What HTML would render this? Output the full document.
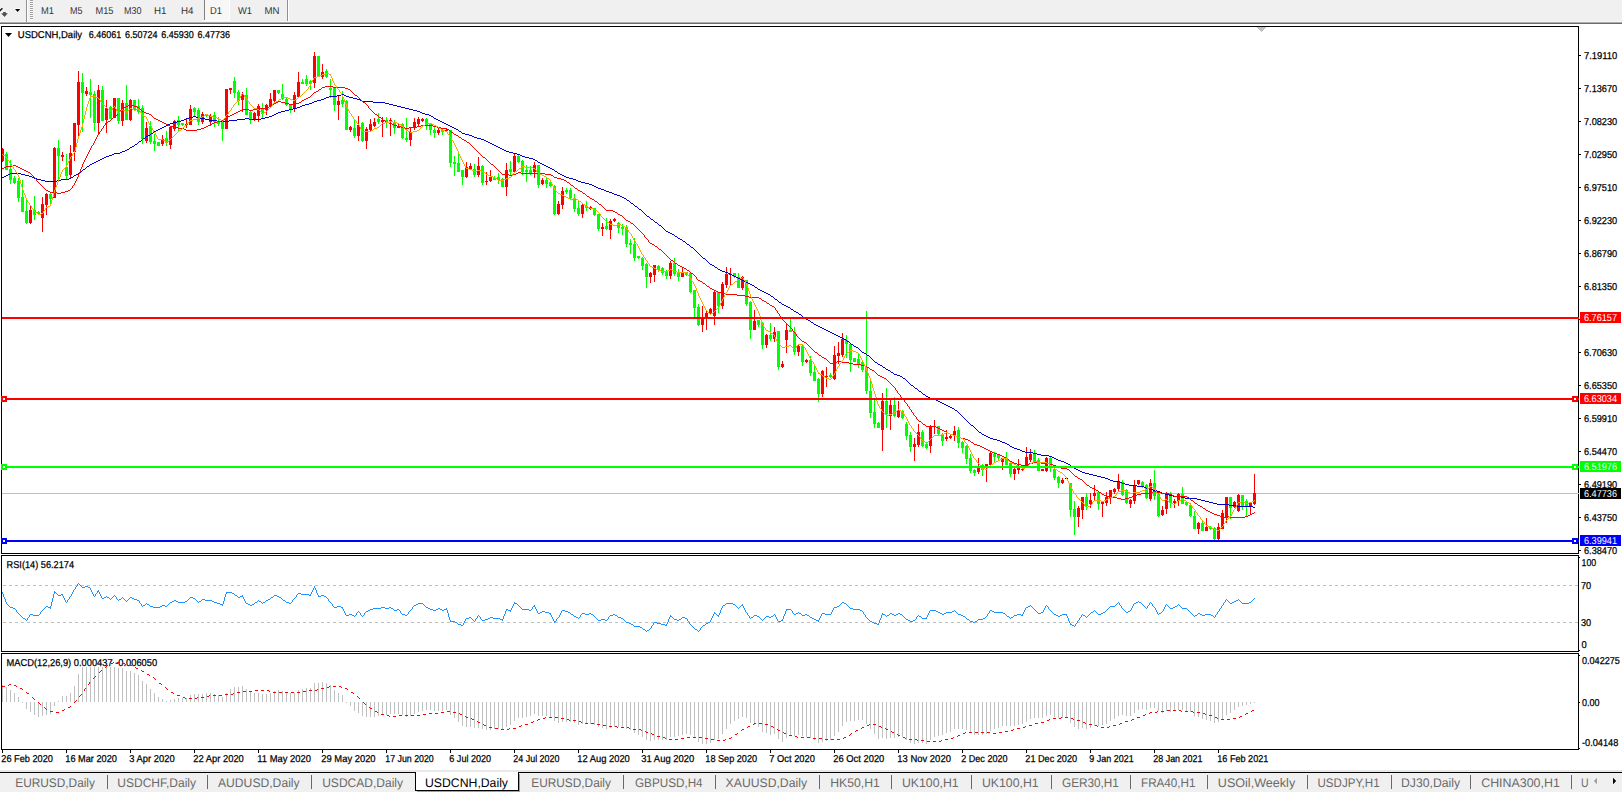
<!DOCTYPE html>
<html><head><meta charset="utf-8"><title>USDCNH,Daily</title>
<style>
html,body{margin:0;padding:0;background:#f0f0f0;overflow:hidden}
svg{display:block}
text{font-family:"Liberation Sans", sans-serif;text-rendering:geometricPrecision}
.s{font-size:10px;fill:#000;stroke:#000;stroke-width:.25px}
.tf{font-size:10px;fill:#333}
.tab{font-size:12.5px;fill:#6a6a6a}
.w{font-size:10px;fill:#fff}
</style></head><body>
<svg width="1622" height="793" viewBox="0 0 1622 793" shape-rendering="crispEdges">
<rect x="0" y="0" width="1622" height="793" fill="#f0f0f0"/>
<rect x="0" y="21" width="1622" height="1" fill="#f6f6f6"/>
<rect x="0" y="22" width="1622" height="1" fill="#acacac"/>
<rect x="0" y="23" width="1622" height="1" fill="#6c6c6c"/>
<rect x="0" y="24" width="1622" height="2" fill="#ffffff"/>
<rect x="0" y="26" width="1622" height="744" fill="#ffffff"/>
<rect x="26" y="0" width="1" height="22" fill="#909090"/>
<rect x="27" y="0" width="1" height="21" fill="#ffffff"/>
<rect x="30" y="0" width="3" height="1" fill="#a0a0a0"/>
<rect x="30" y="1" width="3" height="1" fill="#fafafa"/>
<rect x="30" y="2" width="3" height="1" fill="#a0a0a0"/>
<rect x="30" y="3" width="3" height="1" fill="#fafafa"/>
<rect x="30" y="4" width="3" height="1" fill="#a0a0a0"/>
<rect x="30" y="5" width="3" height="1" fill="#fafafa"/>
<rect x="30" y="6" width="3" height="1" fill="#a0a0a0"/>
<rect x="30" y="7" width="3" height="1" fill="#fafafa"/>
<rect x="30" y="8" width="3" height="1" fill="#a0a0a0"/>
<rect x="30" y="9" width="3" height="1" fill="#fafafa"/>
<rect x="30" y="10" width="3" height="1" fill="#a0a0a0"/>
<rect x="30" y="11" width="3" height="1" fill="#fafafa"/>
<rect x="30" y="12" width="3" height="1" fill="#a0a0a0"/>
<rect x="30" y="13" width="3" height="1" fill="#fafafa"/>
<rect x="30" y="14" width="3" height="1" fill="#a0a0a0"/>
<rect x="30" y="15" width="3" height="1" fill="#fafafa"/>
<rect x="30" y="16" width="3" height="1" fill="#a0a0a0"/>
<rect x="30" y="17" width="3" height="1" fill="#fafafa"/>
<rect x="30" y="18" width="3" height="1" fill="#a0a0a0"/>
<rect x="30" y="19" width="3" height="1" fill="#fafafa"/>
<path d="M-0.5 11.5 L2.6 8" stroke="#fff" stroke-width="3.2" fill="none" shape-rendering="auto"/>
<path d="M-0.5 11.3 L2.4 8.2" stroke="#222" stroke-width="1.6" fill="none" shape-rendering="auto"/>
<path d="M0.2 12.6 L8.8 12.6 L4.5 17.9 Z" fill="#fff" shape-rendering="auto"/>
<path d="M3.2 12.1 L5.8 12.1 L5.8 13.2 L8 13.2 L4.5 17.1 L1 13.2 L3.2 13.2 Z" fill="#505050" shape-rendering="auto"/>
<path d="M14 8.3 L21 8.3 L17.5 13 Z" fill="#fff" shape-rendering="auto"/>
<path d="M15 9 L20.2 9 L17.6 12 Z" fill="#000" shape-rendering="auto"/>
<rect x="205" y="0" width="24" height="20" fill="#f7f7f7"/>
<rect x="204" y="20" width="26" height="1" fill="#ffffff"/>
<rect x="229" y="0" width="1" height="21" fill="#ffffff"/>
<rect x="204" y="0" width="1" height="20" fill="#808080"/>
<rect x="287" y="0" width="1" height="21" fill="#909090"/>
<rect x="288" y="0" width="1" height="21" fill="#ffffff"/>
<text x="41" y="14" class="tf" textLength="13" lengthAdjust="spacingAndGlyphs">M1</text>
<text x="70" y="14" class="tf" textLength="12.5" lengthAdjust="spacingAndGlyphs">M5</text>
<text x="95.5" y="14" class="tf" textLength="18" lengthAdjust="spacingAndGlyphs">M15</text>
<text x="124" y="14" class="tf" textLength="17.5" lengthAdjust="spacingAndGlyphs">M30</text>
<text x="154" y="14" class="tf" textLength="12.5" lengthAdjust="spacingAndGlyphs">H1</text>
<text x="181" y="14" class="tf" textLength="12.5" lengthAdjust="spacingAndGlyphs">H4</text>
<text x="210" y="14" class="tf" textLength="12" lengthAdjust="spacingAndGlyphs">D1</text>
<text x="238" y="14" class="tf" textLength="14" lengthAdjust="spacingAndGlyphs">W1</text>
<text x="264.5" y="14" class="tf" textLength="15" lengthAdjust="spacingAndGlyphs">MN</text>
<rect x="1" y="26" width="1578" height="1" fill="#000"/>
<rect x="1" y="553" width="1578" height="1" fill="#000"/>
<rect x="1" y="26" width="1" height="528" fill="#000"/>
<rect x="1578" y="26" width="1" height="528" fill="#000"/>
<rect x="1" y="555" width="1578" height="1" fill="#000"/>
<rect x="1" y="651" width="1578" height="1" fill="#000"/>
<rect x="1" y="555" width="1" height="97" fill="#000"/>
<rect x="1578" y="555" width="1" height="97" fill="#000"/>
<rect x="1" y="653" width="1578" height="1" fill="#000"/>
<rect x="1" y="749" width="1578" height="1" fill="#000"/>
<rect x="1" y="653" width="1" height="97" fill="#000"/>
<rect x="1578" y="653" width="1" height="97" fill="#000"/>
<rect x="1579" y="55" width="2" height="1" fill="#000"/>
<text x="1584" y="59" class="s" textLength="33.2" lengthAdjust="spacingAndGlyphs">7.19110</text>
<rect x="1579" y="88" width="2" height="1" fill="#000"/>
<text x="1584" y="92" class="s" textLength="33.2" lengthAdjust="spacingAndGlyphs">7.13670</text>
<rect x="1579" y="121" width="2" height="1" fill="#000"/>
<text x="1584" y="125" class="s" textLength="33.2" lengthAdjust="spacingAndGlyphs">7.08230</text>
<rect x="1579" y="154" width="2" height="1" fill="#000"/>
<text x="1584" y="158" class="s" textLength="33.2" lengthAdjust="spacingAndGlyphs">7.02950</text>
<rect x="1579" y="187" width="2" height="1" fill="#000"/>
<text x="1584" y="191" class="s" textLength="33.2" lengthAdjust="spacingAndGlyphs">6.97510</text>
<rect x="1579" y="220" width="2" height="1" fill="#000"/>
<text x="1584" y="224" class="s" textLength="33.2" lengthAdjust="spacingAndGlyphs">6.92230</text>
<rect x="1579" y="253" width="2" height="1" fill="#000"/>
<text x="1584" y="257" class="s" textLength="33.2" lengthAdjust="spacingAndGlyphs">6.86790</text>
<rect x="1579" y="286" width="2" height="1" fill="#000"/>
<text x="1584" y="290" class="s" textLength="33.2" lengthAdjust="spacingAndGlyphs">6.81350</text>
<rect x="1579" y="352" width="2" height="1" fill="#000"/>
<text x="1584" y="356" class="s" textLength="33.2" lengthAdjust="spacingAndGlyphs">6.70630</text>
<rect x="1579" y="385" width="2" height="1" fill="#000"/>
<text x="1584" y="389" class="s" textLength="33.2" lengthAdjust="spacingAndGlyphs">6.65350</text>
<rect x="1579" y="418" width="2" height="1" fill="#000"/>
<text x="1584" y="422" class="s" textLength="33.2" lengthAdjust="spacingAndGlyphs">6.59910</text>
<rect x="1579" y="451" width="2" height="1" fill="#000"/>
<text x="1584" y="455" class="s" textLength="33.2" lengthAdjust="spacingAndGlyphs">6.54470</text>
<rect x="1579" y="484" width="2" height="1" fill="#000"/>
<text x="1584" y="488" class="s" textLength="33.2" lengthAdjust="spacingAndGlyphs">6.49190</text>
<rect x="1579" y="517" width="2" height="1" fill="#000"/>
<text x="1584" y="521" class="s" textLength="33.2" lengthAdjust="spacingAndGlyphs">6.43750</text>
<rect x="1579" y="550" width="2" height="1" fill="#000"/>
<text x="1584" y="554" class="s" textLength="33.2" lengthAdjust="spacingAndGlyphs">6.38470</text>
<text x="1581.5" y="566" class="s" textLength="14.7" lengthAdjust="spacingAndGlyphs">100</text>
<text x="1581" y="589" class="s" textLength="10.2" lengthAdjust="spacingAndGlyphs">70</text>
<text x="1581" y="626" class="s" textLength="10.2" lengthAdjust="spacingAndGlyphs">30</text>
<text x="1581.5" y="648" class="s" textLength="5.2" lengthAdjust="spacingAndGlyphs">0</text>
<rect x="1579" y="557" width="1" height="1" fill="#000"/>
<rect x="1579" y="650" width="1" height="1" fill="#000"/>
<text x="1582" y="664" class="s" textLength="37.8" lengthAdjust="spacingAndGlyphs">0.042275</text>
<text x="1582" y="706" class="s" textLength="17.6" lengthAdjust="spacingAndGlyphs">0.00</text>
<text x="1582" y="746" class="s" textLength="36.3" lengthAdjust="spacingAndGlyphs">-0.04148</text>
<rect x="1579" y="655" width="1" height="1" fill="#000"/>
<rect x="1579" y="702" width="1" height="1" fill="#000"/>
<rect x="1579" y="748" width="1" height="1" fill="#000"/>
<rect x="2" y="750" width="1" height="3" fill="#000"/>
<text x="1.3" y="762" class="s" textLength="51.6" lengthAdjust="spacingAndGlyphs">26 Feb 2020</text>
<rect x="66" y="750" width="1" height="3" fill="#000"/>
<text x="65.3" y="762" class="s" textLength="51.6" lengthAdjust="spacingAndGlyphs">16 Mar 2020</text>
<rect x="130" y="750" width="1" height="3" fill="#000"/>
<text x="129.3" y="762" class="s" textLength="45.3" lengthAdjust="spacingAndGlyphs">3 Apr 2020</text>
<rect x="194" y="750" width="1" height="3" fill="#000"/>
<text x="193.3" y="762" class="s" textLength="50.5" lengthAdjust="spacingAndGlyphs">22 Apr 2020</text>
<rect x="258" y="750" width="1" height="3" fill="#000"/>
<text x="257.3" y="762" class="s" textLength="53.6" lengthAdjust="spacingAndGlyphs">11 May 2020</text>
<rect x="322" y="750" width="1" height="3" fill="#000"/>
<text x="321.3" y="762" class="s" textLength="54.3" lengthAdjust="spacingAndGlyphs">29 May 2020</text>
<rect x="386" y="750" width="1" height="3" fill="#000"/>
<text x="385.3" y="762" class="s" textLength="48.4" lengthAdjust="spacingAndGlyphs">17 Jun 2020</text>
<rect x="450" y="750" width="1" height="3" fill="#000"/>
<text x="449.3" y="762" class="s" textLength="41.8" lengthAdjust="spacingAndGlyphs">6 Jul 2020</text>
<rect x="514" y="750" width="1" height="3" fill="#000"/>
<text x="513.3" y="762" class="s" textLength="46.2" lengthAdjust="spacingAndGlyphs">24 Jul 2020</text>
<rect x="578" y="750" width="1" height="3" fill="#000"/>
<text x="577.3" y="762" class="s" textLength="52.5" lengthAdjust="spacingAndGlyphs">12 Aug 2020</text>
<rect x="642" y="750" width="1" height="3" fill="#000"/>
<text x="641.3" y="762" class="s" textLength="52.9" lengthAdjust="spacingAndGlyphs">31 Aug 2020</text>
<rect x="706" y="750" width="1" height="3" fill="#000"/>
<text x="705.3" y="762" class="s" textLength="51.8" lengthAdjust="spacingAndGlyphs">18 Sep 2020</text>
<rect x="770" y="750" width="1" height="3" fill="#000"/>
<text x="769.3" y="762" class="s" textLength="45.6" lengthAdjust="spacingAndGlyphs">7 Oct 2020</text>
<rect x="834" y="750" width="1" height="3" fill="#000"/>
<text x="833.3" y="762" class="s" textLength="51" lengthAdjust="spacingAndGlyphs">26 Oct 2020</text>
<rect x="898" y="750" width="1" height="3" fill="#000"/>
<text x="897.3" y="762" class="s" textLength="53.6" lengthAdjust="spacingAndGlyphs">13 Nov 2020</text>
<rect x="962" y="750" width="1" height="3" fill="#000"/>
<text x="961.3" y="762" class="s" textLength="46.2" lengthAdjust="spacingAndGlyphs">2 Dec 2020</text>
<rect x="1026" y="750" width="1" height="3" fill="#000"/>
<text x="1025.3" y="762" class="s" textLength="51.8" lengthAdjust="spacingAndGlyphs">21 Dec 2020</text>
<rect x="1090" y="750" width="1" height="3" fill="#000"/>
<text x="1089.3" y="762" class="s" textLength="44.4" lengthAdjust="spacingAndGlyphs">9 Jan 2021</text>
<rect x="1154" y="750" width="1" height="3" fill="#000"/>
<text x="1153.3" y="762" class="s" textLength="49.1" lengthAdjust="spacingAndGlyphs">28 Jan 2021</text>
<rect x="1218" y="750" width="1" height="3" fill="#000"/>
<text x="1217.3" y="762" class="s" textLength="51" lengthAdjust="spacingAndGlyphs">16 Feb 2021</text>
<rect x="0" y="770" width="1622" height="2" fill="#e8e8e8"/>
<rect x="0" y="772" width="1622" height="21" fill="#f0f0f0"/>
<rect x="0" y="772" width="1622" height="1" fill="#000"/>
<rect x="416" y="772" width="102" height="18" fill="#ffffff"/>
<rect x="415" y="772" width="1" height="19" fill="#000"/>
<rect x="518" y="772" width="1" height="19" fill="#000"/>
<rect x="415" y="790" width="104" height="1" fill="#000"/>
<rect x="519" y="774" width="1" height="18" fill="#a0a0a0"/>
<rect x="417" y="791" width="103" height="1" fill="#a0a0a0"/>
<text x="15.3" y="787" class="tab" textLength="79.6" lengthAdjust="spacingAndGlyphs">EURUSD,Daily</text>
<text x="117.3" y="787" class="tab" textLength="78.7" lengthAdjust="spacingAndGlyphs">USDCHF,Daily</text>
<text x="218" y="787" class="tab" textLength="81.6" lengthAdjust="spacingAndGlyphs">AUDUSD,Daily</text>
<text x="322.2" y="787" class="tab" textLength="80.8" lengthAdjust="spacingAndGlyphs">USDCAD,Daily</text>
<text x="425" y="787" class="tab" textLength="83" lengthAdjust="spacingAndGlyphs" style="fill:#000">USDCNH,Daily</text>
<text x="531.3" y="787" class="tab" textLength="79.6" lengthAdjust="spacingAndGlyphs">EURUSD,Daily</text>
<text x="635" y="787" class="tab" textLength="67.6" lengthAdjust="spacingAndGlyphs">GBPUSD,H4</text>
<text x="725.6" y="787" class="tab" textLength="81.4" lengthAdjust="spacingAndGlyphs">XAUUSD,Daily</text>
<text x="830.3" y="787" class="tab" textLength="49.5" lengthAdjust="spacingAndGlyphs">HK50,H1</text>
<text x="902" y="787" class="tab" textLength="56.6" lengthAdjust="spacingAndGlyphs">UK100,H1</text>
<text x="982" y="787" class="tab" textLength="56.6" lengthAdjust="spacingAndGlyphs">UK100,H1</text>
<text x="1062" y="787" class="tab" textLength="56.9" lengthAdjust="spacingAndGlyphs">GER30,H1</text>
<text x="1141" y="787" class="tab" textLength="54.5" lengthAdjust="spacingAndGlyphs">FRA40,H1</text>
<text x="1217.8" y="787" class="tab" textLength="77.4" lengthAdjust="spacingAndGlyphs">USOil,Weekly</text>
<text x="1317.5" y="787" class="tab" textLength="62.1" lengthAdjust="spacingAndGlyphs">USDJPY,H1</text>
<text x="1401" y="787" class="tab" textLength="59" lengthAdjust="spacingAndGlyphs">DJ30,Daily</text>
<text x="1481.2" y="787" class="tab" textLength="78.6" lengthAdjust="spacingAndGlyphs">CHINA300,H1</text>
<text x="1581" y="787" class="tab" textLength="7.6" lengthAdjust="spacingAndGlyphs">U</text>
<rect x="107" y="775" width="1" height="14" fill="#686868"/>
<rect x="207" y="775" width="1" height="14" fill="#686868"/>
<rect x="311" y="775" width="1" height="14" fill="#686868"/>
<rect x="623" y="775" width="1" height="14" fill="#686868"/>
<rect x="715" y="775" width="1" height="14" fill="#686868"/>
<rect x="819" y="775" width="1" height="14" fill="#686868"/>
<rect x="891" y="775" width="1" height="14" fill="#686868"/>
<rect x="971" y="775" width="1" height="14" fill="#686868"/>
<rect x="1051" y="775" width="1" height="14" fill="#686868"/>
<rect x="1130" y="775" width="1" height="14" fill="#686868"/>
<rect x="1207" y="775" width="1" height="14" fill="#686868"/>
<rect x="1307" y="775" width="1" height="14" fill="#686868"/>
<rect x="1391" y="775" width="1" height="14" fill="#686868"/>
<rect x="1470" y="775" width="1" height="14" fill="#686868"/>
<rect x="1571" y="775" width="1" height="14" fill="#686868"/>
<path d="M1597 777.8 L1597 784.2 L1593.8 781 Z" fill="#a0a0a0" shape-rendering="auto"/>
<path d="M1613 777.8 L1613 784.2 L1616.2 781 Z" fill="#000" shape-rendering="auto"/>
<rect x="0" y="792" width="1622" height="1" fill="#ffffff"/>
<path d="M5 33 L12 33 L8.5 37 Z" fill="#000" shape-rendering="auto"/>
<text x="17.8" y="38" class="s" textLength="64.3" lengthAdjust="spacingAndGlyphs">USDCNH,Daily</text>
<text x="88.8" y="38" class="s" textLength="32.4" lengthAdjust="spacingAndGlyphs">6.46061</text>
<text x="125" y="38" class="s" textLength="32.4" lengthAdjust="spacingAndGlyphs">6.50724</text>
<text x="161.3" y="38" class="s" textLength="32.4" lengthAdjust="spacingAndGlyphs">6.45930</text>
<text x="197.5" y="38" class="s" textLength="32.4" lengthAdjust="spacingAndGlyphs">6.47736</text>
<text x="6.6" y="568" class="s" textLength="67.4" lengthAdjust="spacingAndGlyphs">RSI(14) 56.2174</text>
<rect x="1257" y="27" width="9" height="1" fill="#c0c0c0"/>
<rect x="1258" y="28" width="7" height="1" fill="#c0c0c0"/>
<rect x="1259" y="29" width="5" height="1" fill="#c0c0c0"/>
<rect x="1260" y="30" width="3" height="1" fill="#c0c0c0"/>
<rect x="1261" y="31" width="1" height="1" fill="#c0c0c0"/>
<line x1="3" x2="1578" y1="585.5" y2="585.5" stroke="#c0c0c0" stroke-width="1" stroke-dasharray="3 3"/>
<line x1="3" x2="1578" y1="622.5" y2="622.5" stroke="#c0c0c0" stroke-width="1" stroke-dasharray="3 3"/>
<rect x="2" y="493" width="1577" height="1" fill="#c0c0c0"/>
<g id="candles">
<rect x="2" y="148" width="1" height="14" fill="#ff0000"/>
<rect x="1" y="149" width="3" height="12" fill="#ff0000"/>
<rect x="6" y="152" width="1" height="18" fill="#00ff00"/>
<rect x="5" y="154" width="3" height="16" fill="#00ff00"/>
<rect x="10" y="160" width="1" height="24" fill="#00ff00"/>
<rect x="9" y="169" width="3" height="11" fill="#00ff00"/>
<rect x="14" y="176" width="1" height="8" fill="#00ff00"/>
<rect x="13" y="178" width="3" height="5" fill="#00ff00"/>
<rect x="18" y="178" width="1" height="24" fill="#00ff00"/>
<rect x="17" y="181" width="3" height="17" fill="#00ff00"/>
<rect x="22" y="180" width="1" height="32" fill="#00ff00"/>
<rect x="21" y="197" width="3" height="15" fill="#00ff00"/>
<rect x="26" y="199" width="1" height="25" fill="#00ff00"/>
<rect x="25" y="211" width="3" height="12" fill="#00ff00"/>
<rect x="30" y="206" width="1" height="18" fill="#ff0000"/>
<rect x="29" y="210" width="3" height="13" fill="#ff0000"/>
<rect x="34" y="196" width="1" height="24" fill="#00ff00"/>
<rect x="33" y="210" width="3" height="5" fill="#00ff00"/>
<rect x="38" y="211" width="1" height="4" fill="#00ff00"/>
<rect x="37" y="212" width="3" height="2" fill="#00ff00"/>
<rect x="42" y="197" width="1" height="35" fill="#ff0000"/>
<rect x="41" y="204" width="3" height="14" fill="#ff0000"/>
<rect x="46" y="193" width="1" height="22" fill="#ff0000"/>
<rect x="45" y="194" width="3" height="11" fill="#ff0000"/>
<rect x="50" y="193" width="1" height="11" fill="#00ff00"/>
<rect x="49" y="194" width="3" height="5" fill="#00ff00"/>
<rect x="54" y="147" width="1" height="51" fill="#ff0000"/>
<rect x="53" y="148" width="3" height="50" fill="#ff0000"/>
<rect x="58" y="140" width="1" height="40" fill="#00ff00"/>
<rect x="57" y="148" width="3" height="8" fill="#00ff00"/>
<rect x="62" y="152" width="1" height="9" fill="#ff0000"/>
<rect x="61" y="155" width="3" height="2" fill="#ff0000"/>
<rect x="66" y="154" width="1" height="25" fill="#00ff00"/>
<rect x="65" y="167" width="3" height="9" fill="#00ff00"/>
<rect x="70" y="145" width="1" height="33" fill="#ff0000"/>
<rect x="69" y="153" width="3" height="22" fill="#ff0000"/>
<rect x="74" y="123" width="1" height="38" fill="#ff0000"/>
<rect x="73" y="123" width="3" height="29" fill="#ff0000"/>
<rect x="78" y="71" width="1" height="66" fill="#ff0000"/>
<rect x="77" y="82" width="3" height="43" fill="#ff0000"/>
<rect x="82" y="73" width="1" height="59" fill="#00ff00"/>
<rect x="81" y="82" width="3" height="11" fill="#00ff00"/>
<rect x="86" y="87" width="1" height="9" fill="#ff0000"/>
<rect x="85" y="91" width="3" height="3" fill="#ff0000"/>
<rect x="90" y="79" width="1" height="39" fill="#00ff00"/>
<rect x="89" y="92" width="3" height="3" fill="#00ff00"/>
<rect x="94" y="91" width="1" height="40" fill="#00ff00"/>
<rect x="93" y="94" width="3" height="29" fill="#00ff00"/>
<rect x="98" y="85" width="1" height="50" fill="#ff0000"/>
<rect x="97" y="90" width="3" height="33" fill="#ff0000"/>
<rect x="102" y="86" width="1" height="35" fill="#00ff00"/>
<rect x="101" y="90" width="3" height="31" fill="#00ff00"/>
<rect x="106" y="100" width="1" height="33" fill="#ff0000"/>
<rect x="105" y="108" width="3" height="12" fill="#ff0000"/>
<rect x="110" y="106" width="1" height="13" fill="#00ff00"/>
<rect x="109" y="107" width="3" height="12" fill="#00ff00"/>
<rect x="114" y="98" width="1" height="20" fill="#ff0000"/>
<rect x="113" y="98" width="3" height="20" fill="#ff0000"/>
<rect x="118" y="98" width="1" height="26" fill="#00ff00"/>
<rect x="117" y="98" width="3" height="23" fill="#00ff00"/>
<rect x="122" y="100" width="1" height="26" fill="#ff0000"/>
<rect x="121" y="103" width="3" height="18" fill="#ff0000"/>
<rect x="126" y="85" width="1" height="35" fill="#00ff00"/>
<rect x="125" y="103" width="3" height="17" fill="#00ff00"/>
<rect x="130" y="99" width="1" height="22" fill="#ff0000"/>
<rect x="129" y="100" width="3" height="20" fill="#ff0000"/>
<rect x="134" y="100" width="1" height="11" fill="#00ff00"/>
<rect x="133" y="100" width="3" height="10" fill="#00ff00"/>
<rect x="138" y="99" width="1" height="15" fill="#00ff00"/>
<rect x="137" y="106" width="3" height="6" fill="#00ff00"/>
<rect x="142" y="105" width="1" height="39" fill="#00ff00"/>
<rect x="141" y="108" width="3" height="31" fill="#00ff00"/>
<rect x="146" y="122" width="1" height="21" fill="#ff0000"/>
<rect x="145" y="128" width="3" height="13" fill="#ff0000"/>
<rect x="150" y="121" width="1" height="23" fill="#00ff00"/>
<rect x="149" y="126" width="3" height="16" fill="#00ff00"/>
<rect x="154" y="134" width="1" height="17" fill="#00ff00"/>
<rect x="153" y="141" width="3" height="3" fill="#00ff00"/>
<rect x="158" y="142" width="1" height="4" fill="#00ff00"/>
<rect x="157" y="142" width="3" height="4" fill="#00ff00"/>
<rect x="162" y="135" width="1" height="11" fill="#ff0000"/>
<rect x="161" y="139" width="3" height="5" fill="#ff0000"/>
<rect x="166" y="131" width="1" height="15" fill="#00ff00"/>
<rect x="165" y="138" width="3" height="5" fill="#00ff00"/>
<rect x="170" y="126" width="1" height="23" fill="#ff0000"/>
<rect x="169" y="127" width="3" height="18" fill="#ff0000"/>
<rect x="174" y="120" width="1" height="11" fill="#ff0000"/>
<rect x="173" y="121" width="3" height="8" fill="#ff0000"/>
<rect x="178" y="116" width="1" height="15" fill="#00ff00"/>
<rect x="177" y="120" width="3" height="5" fill="#00ff00"/>
<rect x="182" y="123" width="1" height="3" fill="#00ff00"/>
<rect x="181" y="123" width="3" height="2" fill="#00ff00"/>
<rect x="186" y="119" width="1" height="9" fill="#ff0000"/>
<rect x="185" y="124" width="3" height="1" fill="#ff0000"/>
<rect x="190" y="105" width="1" height="20" fill="#ff0000"/>
<rect x="189" y="109" width="3" height="16" fill="#ff0000"/>
<rect x="194" y="107" width="1" height="9" fill="#00ff00"/>
<rect x="193" y="108" width="3" height="4" fill="#00ff00"/>
<rect x="198" y="108" width="1" height="17" fill="#00ff00"/>
<rect x="197" y="110" width="3" height="12" fill="#00ff00"/>
<rect x="202" y="112" width="1" height="12" fill="#ff0000"/>
<rect x="201" y="114" width="3" height="8" fill="#ff0000"/>
<rect x="206" y="114" width="1" height="3" fill="#00ff00"/>
<rect x="205" y="114" width="3" height="2" fill="#00ff00"/>
<rect x="210" y="114" width="1" height="12" fill="#ff0000"/>
<rect x="209" y="116" width="3" height="6" fill="#ff0000"/>
<rect x="214" y="112" width="1" height="15" fill="#00ff00"/>
<rect x="213" y="115" width="3" height="7" fill="#00ff00"/>
<rect x="218" y="117" width="1" height="9" fill="#00ff00"/>
<rect x="217" y="121" width="3" height="3" fill="#00ff00"/>
<rect x="222" y="122" width="1" height="19" fill="#00ff00"/>
<rect x="221" y="122" width="3" height="7" fill="#00ff00"/>
<rect x="226" y="89" width="1" height="40" fill="#ff0000"/>
<rect x="225" y="89" width="3" height="40" fill="#ff0000"/>
<rect x="230" y="88" width="1" height="6" fill="#ff0000"/>
<rect x="229" y="88" width="3" height="2" fill="#ff0000"/>
<rect x="234" y="77" width="1" height="21" fill="#00ff00"/>
<rect x="233" y="81" width="3" height="12" fill="#00ff00"/>
<rect x="238" y="90" width="1" height="15" fill="#00ff00"/>
<rect x="237" y="92" width="3" height="9" fill="#00ff00"/>
<rect x="242" y="92" width="1" height="20" fill="#ff0000"/>
<rect x="241" y="94" width="3" height="6" fill="#ff0000"/>
<rect x="246" y="88" width="1" height="27" fill="#00ff00"/>
<rect x="245" y="95" width="3" height="20" fill="#00ff00"/>
<rect x="250" y="110" width="1" height="14" fill="#00ff00"/>
<rect x="249" y="112" width="3" height="8" fill="#00ff00"/>
<rect x="254" y="112" width="1" height="9" fill="#ff0000"/>
<rect x="253" y="113" width="3" height="7" fill="#ff0000"/>
<rect x="258" y="104" width="1" height="18" fill="#ff0000"/>
<rect x="257" y="106" width="3" height="10" fill="#ff0000"/>
<rect x="262" y="103" width="1" height="16" fill="#00ff00"/>
<rect x="261" y="108" width="3" height="6" fill="#00ff00"/>
<rect x="266" y="104" width="1" height="11" fill="#ff0000"/>
<rect x="265" y="105" width="3" height="5" fill="#ff0000"/>
<rect x="270" y="93" width="1" height="13" fill="#ff0000"/>
<rect x="269" y="99" width="3" height="7" fill="#ff0000"/>
<rect x="274" y="90" width="1" height="14" fill="#ff0000"/>
<rect x="273" y="90" width="3" height="11" fill="#ff0000"/>
<rect x="278" y="90" width="1" height="4" fill="#00ff00"/>
<rect x="277" y="90" width="3" height="3" fill="#00ff00"/>
<rect x="282" y="84" width="1" height="16" fill="#00ff00"/>
<rect x="281" y="94" width="3" height="5" fill="#00ff00"/>
<rect x="286" y="98" width="1" height="8" fill="#00ff00"/>
<rect x="285" y="99" width="3" height="6" fill="#00ff00"/>
<rect x="290" y="104" width="1" height="9" fill="#00ff00"/>
<rect x="289" y="104" width="3" height="5" fill="#00ff00"/>
<rect x="294" y="92" width="1" height="20" fill="#ff0000"/>
<rect x="293" y="95" width="3" height="14" fill="#ff0000"/>
<rect x="298" y="72" width="1" height="25" fill="#ff0000"/>
<rect x="297" y="82" width="3" height="15" fill="#ff0000"/>
<rect x="302" y="79" width="1" height="5" fill="#00ff00"/>
<rect x="301" y="82" width="3" height="2" fill="#00ff00"/>
<rect x="306" y="75" width="1" height="11" fill="#00ff00"/>
<rect x="305" y="79" width="3" height="5" fill="#00ff00"/>
<rect x="310" y="80" width="1" height="10" fill="#00ff00"/>
<rect x="309" y="81" width="3" height="3" fill="#00ff00"/>
<rect x="314" y="52" width="1" height="36" fill="#ff0000"/>
<rect x="313" y="56" width="3" height="27" fill="#ff0000"/>
<rect x="318" y="56" width="1" height="21" fill="#00ff00"/>
<rect x="317" y="56" width="3" height="21" fill="#00ff00"/>
<rect x="322" y="64" width="1" height="15" fill="#ff0000"/>
<rect x="321" y="72" width="3" height="5" fill="#ff0000"/>
<rect x="326" y="69" width="1" height="9" fill="#00ff00"/>
<rect x="325" y="71" width="3" height="6" fill="#00ff00"/>
<rect x="330" y="79" width="1" height="19" fill="#00ff00"/>
<rect x="329" y="88" width="3" height="2" fill="#00ff00"/>
<rect x="334" y="88" width="1" height="23" fill="#00ff00"/>
<rect x="333" y="88" width="3" height="17" fill="#00ff00"/>
<rect x="338" y="95" width="1" height="25" fill="#ff0000"/>
<rect x="337" y="101" width="3" height="4" fill="#ff0000"/>
<rect x="342" y="91" width="1" height="16" fill="#00ff00"/>
<rect x="341" y="100" width="3" height="4" fill="#00ff00"/>
<rect x="346" y="100" width="1" height="30" fill="#00ff00"/>
<rect x="345" y="101" width="3" height="29" fill="#00ff00"/>
<rect x="350" y="126" width="1" height="6" fill="#ff0000"/>
<rect x="349" y="127" width="3" height="3" fill="#ff0000"/>
<rect x="354" y="120" width="1" height="18" fill="#00ff00"/>
<rect x="353" y="128" width="3" height="8" fill="#00ff00"/>
<rect x="358" y="116" width="1" height="25" fill="#ff0000"/>
<rect x="357" y="125" width="3" height="11" fill="#ff0000"/>
<rect x="362" y="122" width="1" height="20" fill="#00ff00"/>
<rect x="361" y="123" width="3" height="18" fill="#00ff00"/>
<rect x="366" y="127" width="1" height="22" fill="#ff0000"/>
<rect x="365" y="129" width="3" height="12" fill="#ff0000"/>
<rect x="370" y="119" width="1" height="13" fill="#ff0000"/>
<rect x="369" y="124" width="3" height="6" fill="#ff0000"/>
<rect x="374" y="118" width="1" height="9" fill="#ff0000"/>
<rect x="373" y="122" width="3" height="4" fill="#ff0000"/>
<rect x="378" y="113" width="1" height="11" fill="#00ff00"/>
<rect x="377" y="119" width="3" height="3" fill="#00ff00"/>
<rect x="382" y="117" width="1" height="20" fill="#ff0000"/>
<rect x="381" y="120" width="3" height="2" fill="#ff0000"/>
<rect x="386" y="117" width="1" height="11" fill="#00ff00"/>
<rect x="385" y="120" width="3" height="3" fill="#00ff00"/>
<rect x="390" y="118" width="1" height="18" fill="#ff0000"/>
<rect x="389" y="120" width="3" height="2" fill="#ff0000"/>
<rect x="394" y="120" width="1" height="14" fill="#00ff00"/>
<rect x="393" y="123" width="3" height="5" fill="#00ff00"/>
<rect x="398" y="124" width="1" height="4" fill="#ff0000"/>
<rect x="397" y="126" width="3" height="2" fill="#ff0000"/>
<rect x="402" y="123" width="1" height="16" fill="#00ff00"/>
<rect x="401" y="124" width="3" height="14" fill="#00ff00"/>
<rect x="406" y="118" width="1" height="24" fill="#00ff00"/>
<rect x="405" y="138" width="3" height="2" fill="#00ff00"/>
<rect x="410" y="128" width="1" height="18" fill="#ff0000"/>
<rect x="409" y="132" width="3" height="8" fill="#ff0000"/>
<rect x="414" y="118" width="1" height="12" fill="#ff0000"/>
<rect x="413" y="122" width="3" height="6" fill="#ff0000"/>
<rect x="418" y="117" width="1" height="9" fill="#ff0000"/>
<rect x="417" y="119" width="3" height="5" fill="#ff0000"/>
<rect x="422" y="118" width="1" height="4" fill="#ff0000"/>
<rect x="421" y="119" width="3" height="2" fill="#ff0000"/>
<rect x="426" y="118" width="1" height="12" fill="#00ff00"/>
<rect x="425" y="119" width="3" height="7" fill="#00ff00"/>
<rect x="430" y="123" width="1" height="12" fill="#00ff00"/>
<rect x="429" y="124" width="3" height="6" fill="#00ff00"/>
<rect x="434" y="126" width="1" height="12" fill="#00ff00"/>
<rect x="433" y="130" width="3" height="3" fill="#00ff00"/>
<rect x="438" y="128" width="1" height="7" fill="#ff0000"/>
<rect x="437" y="130" width="3" height="3" fill="#ff0000"/>
<rect x="442" y="128" width="1" height="7" fill="#00ff00"/>
<rect x="441" y="130" width="3" height="2" fill="#00ff00"/>
<rect x="446" y="129" width="1" height="3" fill="#ff0000"/>
<rect x="445" y="130" width="3" height="1" fill="#ff0000"/>
<rect x="450" y="130" width="1" height="37" fill="#00ff00"/>
<rect x="449" y="130" width="3" height="33" fill="#00ff00"/>
<rect x="454" y="156" width="1" height="20" fill="#00ff00"/>
<rect x="453" y="162" width="3" height="2" fill="#00ff00"/>
<rect x="458" y="154" width="1" height="18" fill="#00ff00"/>
<rect x="457" y="163" width="3" height="9" fill="#00ff00"/>
<rect x="462" y="170" width="1" height="15" fill="#00ff00"/>
<rect x="461" y="170" width="3" height="7" fill="#00ff00"/>
<rect x="466" y="162" width="1" height="16" fill="#ff0000"/>
<rect x="465" y="167" width="3" height="10" fill="#ff0000"/>
<rect x="470" y="163" width="1" height="6" fill="#ff0000"/>
<rect x="469" y="166" width="3" height="3" fill="#ff0000"/>
<rect x="474" y="164" width="1" height="13" fill="#00ff00"/>
<rect x="473" y="169" width="3" height="6" fill="#00ff00"/>
<rect x="478" y="157" width="1" height="20" fill="#ff0000"/>
<rect x="477" y="166" width="3" height="9" fill="#ff0000"/>
<rect x="482" y="165" width="1" height="20" fill="#00ff00"/>
<rect x="481" y="166" width="3" height="17" fill="#00ff00"/>
<rect x="486" y="172" width="1" height="13" fill="#ff0000"/>
<rect x="485" y="181" width="3" height="1" fill="#ff0000"/>
<rect x="490" y="170" width="1" height="12" fill="#ff0000"/>
<rect x="489" y="177" width="3" height="4" fill="#ff0000"/>
<rect x="494" y="176" width="1" height="4" fill="#00ff00"/>
<rect x="493" y="178" width="3" height="2" fill="#00ff00"/>
<rect x="498" y="173" width="1" height="11" fill="#00ff00"/>
<rect x="497" y="177" width="3" height="3" fill="#00ff00"/>
<rect x="502" y="178" width="1" height="9" fill="#00ff00"/>
<rect x="501" y="179" width="3" height="8" fill="#00ff00"/>
<rect x="506" y="163" width="1" height="33" fill="#ff0000"/>
<rect x="505" y="170" width="3" height="17" fill="#ff0000"/>
<rect x="510" y="161" width="1" height="14" fill="#00ff00"/>
<rect x="509" y="169" width="3" height="3" fill="#00ff00"/>
<rect x="514" y="154" width="1" height="19" fill="#ff0000"/>
<rect x="513" y="156" width="3" height="16" fill="#ff0000"/>
<rect x="518" y="155" width="1" height="8" fill="#00ff00"/>
<rect x="517" y="156" width="3" height="6" fill="#00ff00"/>
<rect x="522" y="160" width="1" height="15" fill="#00ff00"/>
<rect x="521" y="161" width="3" height="11" fill="#00ff00"/>
<rect x="526" y="165" width="1" height="17" fill="#00ff00"/>
<rect x="525" y="170" width="3" height="2" fill="#00ff00"/>
<rect x="530" y="166" width="1" height="9" fill="#00ff00"/>
<rect x="529" y="170" width="3" height="3" fill="#00ff00"/>
<rect x="534" y="162" width="1" height="16" fill="#ff0000"/>
<rect x="533" y="165" width="3" height="7" fill="#ff0000"/>
<rect x="538" y="165" width="1" height="23" fill="#00ff00"/>
<rect x="537" y="165" width="3" height="20" fill="#00ff00"/>
<rect x="542" y="178" width="1" height="7" fill="#ff0000"/>
<rect x="541" y="180" width="3" height="4" fill="#ff0000"/>
<rect x="546" y="178" width="1" height="10" fill="#00ff00"/>
<rect x="545" y="180" width="3" height="4" fill="#00ff00"/>
<rect x="550" y="180" width="1" height="7" fill="#00ff00"/>
<rect x="549" y="182" width="3" height="4" fill="#00ff00"/>
<rect x="554" y="185" width="1" height="30" fill="#00ff00"/>
<rect x="553" y="186" width="3" height="28" fill="#00ff00"/>
<rect x="558" y="201" width="1" height="14" fill="#ff0000"/>
<rect x="557" y="204" width="3" height="10" fill="#ff0000"/>
<rect x="562" y="187" width="1" height="22" fill="#ff0000"/>
<rect x="561" y="191" width="3" height="14" fill="#ff0000"/>
<rect x="566" y="188" width="1" height="6" fill="#00ff00"/>
<rect x="565" y="190" width="3" height="2" fill="#00ff00"/>
<rect x="570" y="188" width="1" height="12" fill="#00ff00"/>
<rect x="569" y="190" width="3" height="8" fill="#00ff00"/>
<rect x="574" y="194" width="1" height="18" fill="#00ff00"/>
<rect x="573" y="198" width="3" height="11" fill="#00ff00"/>
<rect x="578" y="201" width="1" height="15" fill="#00ff00"/>
<rect x="577" y="208" width="3" height="6" fill="#00ff00"/>
<rect x="582" y="204" width="1" height="14" fill="#ff0000"/>
<rect x="581" y="205" width="3" height="9" fill="#ff0000"/>
<rect x="586" y="201" width="1" height="10" fill="#00ff00"/>
<rect x="585" y="206" width="3" height="2" fill="#00ff00"/>
<rect x="590" y="206" width="1" height="4" fill="#ff0000"/>
<rect x="589" y="207" width="3" height="2" fill="#ff0000"/>
<rect x="594" y="208" width="1" height="8" fill="#00ff00"/>
<rect x="593" y="208" width="3" height="7" fill="#00ff00"/>
<rect x="598" y="214" width="1" height="17" fill="#00ff00"/>
<rect x="597" y="214" width="3" height="15" fill="#00ff00"/>
<rect x="602" y="223" width="1" height="13" fill="#ff0000"/>
<rect x="601" y="227" width="3" height="2" fill="#ff0000"/>
<rect x="606" y="218" width="1" height="12" fill="#00ff00"/>
<rect x="605" y="226" width="3" height="3" fill="#00ff00"/>
<rect x="610" y="219" width="1" height="20" fill="#ff0000"/>
<rect x="609" y="221" width="3" height="9" fill="#ff0000"/>
<rect x="614" y="218" width="1" height="4" fill="#ff0000"/>
<rect x="613" y="219" width="3" height="2" fill="#ff0000"/>
<rect x="618" y="222" width="1" height="11" fill="#00ff00"/>
<rect x="617" y="223" width="3" height="5" fill="#00ff00"/>
<rect x="622" y="224" width="1" height="11" fill="#00ff00"/>
<rect x="621" y="227" width="3" height="2" fill="#00ff00"/>
<rect x="626" y="225" width="1" height="22" fill="#00ff00"/>
<rect x="625" y="227" width="3" height="17" fill="#00ff00"/>
<rect x="630" y="239" width="1" height="15" fill="#00ff00"/>
<rect x="629" y="243" width="3" height="2" fill="#00ff00"/>
<rect x="634" y="238" width="1" height="23" fill="#00ff00"/>
<rect x="633" y="244" width="3" height="14" fill="#00ff00"/>
<rect x="638" y="256" width="1" height="3" fill="#00ff00"/>
<rect x="637" y="256" width="3" height="2" fill="#00ff00"/>
<rect x="642" y="257" width="1" height="13" fill="#00ff00"/>
<rect x="641" y="258" width="3" height="8" fill="#00ff00"/>
<rect x="646" y="263" width="1" height="25" fill="#00ff00"/>
<rect x="645" y="264" width="3" height="13" fill="#00ff00"/>
<rect x="650" y="272" width="1" height="11" fill="#ff0000"/>
<rect x="649" y="273" width="3" height="4" fill="#ff0000"/>
<rect x="654" y="265" width="1" height="17" fill="#ff0000"/>
<rect x="653" y="265" width="3" height="10" fill="#ff0000"/>
<rect x="658" y="265" width="1" height="7" fill="#00ff00"/>
<rect x="657" y="266" width="3" height="4" fill="#00ff00"/>
<rect x="662" y="267" width="1" height="8" fill="#00ff00"/>
<rect x="661" y="268" width="3" height="5" fill="#00ff00"/>
<rect x="666" y="270" width="1" height="9" fill="#00ff00"/>
<rect x="665" y="271" width="3" height="5" fill="#00ff00"/>
<rect x="670" y="261" width="1" height="18" fill="#ff0000"/>
<rect x="669" y="263" width="3" height="13" fill="#ff0000"/>
<rect x="674" y="258" width="1" height="18" fill="#00ff00"/>
<rect x="673" y="263" width="3" height="11" fill="#00ff00"/>
<rect x="678" y="269" width="1" height="12" fill="#00ff00"/>
<rect x="677" y="273" width="3" height="4" fill="#00ff00"/>
<rect x="682" y="268" width="1" height="9" fill="#ff0000"/>
<rect x="681" y="273" width="3" height="4" fill="#ff0000"/>
<rect x="686" y="272" width="1" height="4" fill="#00ff00"/>
<rect x="685" y="272" width="3" height="3" fill="#00ff00"/>
<rect x="690" y="273" width="1" height="20" fill="#00ff00"/>
<rect x="689" y="273" width="3" height="19" fill="#00ff00"/>
<rect x="694" y="290" width="1" height="27" fill="#00ff00"/>
<rect x="693" y="290" width="3" height="18" fill="#00ff00"/>
<rect x="698" y="304" width="1" height="22" fill="#00ff00"/>
<rect x="697" y="307" width="3" height="18" fill="#00ff00"/>
<rect x="702" y="306" width="1" height="26" fill="#ff0000"/>
<rect x="701" y="318" width="3" height="7" fill="#ff0000"/>
<rect x="706" y="310" width="1" height="20" fill="#ff0000"/>
<rect x="705" y="313" width="3" height="6" fill="#ff0000"/>
<rect x="710" y="308" width="1" height="7" fill="#ff0000"/>
<rect x="709" y="309" width="3" height="5" fill="#ff0000"/>
<rect x="714" y="290" width="1" height="35" fill="#ff0000"/>
<rect x="713" y="292" width="3" height="24" fill="#ff0000"/>
<rect x="718" y="292" width="1" height="21" fill="#00ff00"/>
<rect x="717" y="292" width="3" height="14" fill="#00ff00"/>
<rect x="722" y="282" width="1" height="27" fill="#ff0000"/>
<rect x="721" y="284" width="3" height="22" fill="#ff0000"/>
<rect x="726" y="267" width="1" height="21" fill="#ff0000"/>
<rect x="725" y="274" width="3" height="11" fill="#ff0000"/>
<rect x="730" y="268" width="1" height="18" fill="#ff0000"/>
<rect x="729" y="274" width="3" height="1" fill="#ff0000"/>
<rect x="734" y="273" width="1" height="5" fill="#00ff00"/>
<rect x="733" y="273" width="3" height="4" fill="#00ff00"/>
<rect x="738" y="273" width="1" height="15" fill="#00ff00"/>
<rect x="737" y="277" width="3" height="11" fill="#00ff00"/>
<rect x="742" y="276" width="1" height="14" fill="#ff0000"/>
<rect x="741" y="277" width="3" height="11" fill="#ff0000"/>
<rect x="746" y="280" width="1" height="26" fill="#00ff00"/>
<rect x="745" y="280" width="3" height="24" fill="#00ff00"/>
<rect x="750" y="301" width="1" height="38" fill="#00ff00"/>
<rect x="749" y="302" width="3" height="28" fill="#00ff00"/>
<rect x="754" y="310" width="1" height="20" fill="#ff0000"/>
<rect x="753" y="321" width="3" height="9" fill="#ff0000"/>
<rect x="758" y="320" width="1" height="7" fill="#00ff00"/>
<rect x="757" y="320" width="3" height="5" fill="#00ff00"/>
<rect x="762" y="322" width="1" height="27" fill="#00ff00"/>
<rect x="761" y="323" width="3" height="22" fill="#00ff00"/>
<rect x="766" y="334" width="1" height="14" fill="#ff0000"/>
<rect x="765" y="335" width="3" height="10" fill="#ff0000"/>
<rect x="770" y="323" width="1" height="18" fill="#00ff00"/>
<rect x="769" y="335" width="3" height="4" fill="#00ff00"/>
<rect x="774" y="327" width="1" height="15" fill="#ff0000"/>
<rect x="773" y="332" width="3" height="7" fill="#ff0000"/>
<rect x="778" y="331" width="1" height="39" fill="#00ff00"/>
<rect x="777" y="331" width="3" height="36" fill="#00ff00"/>
<rect x="782" y="361" width="1" height="7" fill="#ff0000"/>
<rect x="781" y="364" width="3" height="3" fill="#ff0000"/>
<rect x="786" y="323" width="1" height="30" fill="#ff0000"/>
<rect x="785" y="330" width="3" height="10" fill="#ff0000"/>
<rect x="790" y="319" width="1" height="13" fill="#00ff00"/>
<rect x="789" y="330" width="3" height="2" fill="#00ff00"/>
<rect x="794" y="327" width="1" height="28" fill="#00ff00"/>
<rect x="793" y="332" width="3" height="20" fill="#00ff00"/>
<rect x="798" y="345" width="1" height="11" fill="#ff0000"/>
<rect x="797" y="346" width="3" height="6" fill="#ff0000"/>
<rect x="802" y="345" width="1" height="21" fill="#00ff00"/>
<rect x="801" y="346" width="3" height="16" fill="#00ff00"/>
<rect x="806" y="359" width="1" height="4" fill="#ff0000"/>
<rect x="805" y="360" width="3" height="2" fill="#ff0000"/>
<rect x="810" y="356" width="1" height="20" fill="#00ff00"/>
<rect x="809" y="360" width="3" height="13" fill="#00ff00"/>
<rect x="814" y="366" width="1" height="15" fill="#00ff00"/>
<rect x="813" y="372" width="3" height="9" fill="#00ff00"/>
<rect x="818" y="378" width="1" height="24" fill="#00ff00"/>
<rect x="817" y="379" width="3" height="15" fill="#00ff00"/>
<rect x="822" y="370" width="1" height="27" fill="#ff0000"/>
<rect x="821" y="371" width="3" height="23" fill="#ff0000"/>
<rect x="826" y="367" width="1" height="20" fill="#ff0000"/>
<rect x="825" y="376" width="3" height="1" fill="#ff0000"/>
<rect x="830" y="373" width="1" height="5" fill="#00ff00"/>
<rect x="829" y="375" width="3" height="2" fill="#00ff00"/>
<rect x="834" y="346" width="1" height="34" fill="#ff0000"/>
<rect x="833" y="355" width="3" height="24" fill="#ff0000"/>
<rect x="838" y="342" width="1" height="22" fill="#ff0000"/>
<rect x="837" y="353" width="3" height="3" fill="#ff0000"/>
<rect x="842" y="333" width="1" height="24" fill="#ff0000"/>
<rect x="841" y="339" width="3" height="16" fill="#ff0000"/>
<rect x="846" y="335" width="1" height="23" fill="#00ff00"/>
<rect x="845" y="340" width="3" height="4" fill="#00ff00"/>
<rect x="850" y="343" width="1" height="29" fill="#00ff00"/>
<rect x="849" y="344" width="3" height="16" fill="#00ff00"/>
<rect x="854" y="358" width="1" height="4" fill="#00ff00"/>
<rect x="853" y="358" width="3" height="4" fill="#00ff00"/>
<rect x="858" y="353" width="1" height="15" fill="#00ff00"/>
<rect x="857" y="359" width="3" height="5" fill="#00ff00"/>
<rect x="862" y="361" width="1" height="11" fill="#00ff00"/>
<rect x="861" y="362" width="3" height="8" fill="#00ff00"/>
<rect x="866" y="311" width="1" height="83" fill="#00ff00"/>
<rect x="865" y="367" width="3" height="24" fill="#00ff00"/>
<rect x="870" y="381" width="1" height="37" fill="#00ff00"/>
<rect x="869" y="391" width="3" height="22" fill="#00ff00"/>
<rect x="874" y="399" width="1" height="29" fill="#00ff00"/>
<rect x="873" y="412" width="3" height="12" fill="#00ff00"/>
<rect x="878" y="422" width="1" height="6" fill="#00ff00"/>
<rect x="877" y="423" width="3" height="5" fill="#00ff00"/>
<rect x="882" y="393" width="1" height="58" fill="#ff0000"/>
<rect x="881" y="401" width="3" height="29" fill="#ff0000"/>
<rect x="886" y="388" width="1" height="40" fill="#00ff00"/>
<rect x="885" y="401" width="3" height="13" fill="#00ff00"/>
<rect x="890" y="399" width="1" height="31" fill="#ff0000"/>
<rect x="889" y="405" width="3" height="11" fill="#ff0000"/>
<rect x="894" y="397" width="1" height="20" fill="#00ff00"/>
<rect x="893" y="405" width="3" height="11" fill="#00ff00"/>
<rect x="898" y="401" width="1" height="17" fill="#ff0000"/>
<rect x="897" y="411" width="3" height="6" fill="#ff0000"/>
<rect x="902" y="410" width="1" height="9" fill="#00ff00"/>
<rect x="901" y="411" width="3" height="7" fill="#00ff00"/>
<rect x="906" y="422" width="1" height="18" fill="#00ff00"/>
<rect x="905" y="424" width="3" height="12" fill="#00ff00"/>
<rect x="910" y="432" width="1" height="20" fill="#00ff00"/>
<rect x="909" y="435" width="3" height="12" fill="#00ff00"/>
<rect x="914" y="438" width="1" height="23" fill="#ff0000"/>
<rect x="913" y="444" width="3" height="3" fill="#ff0000"/>
<rect x="918" y="424" width="1" height="23" fill="#ff0000"/>
<rect x="917" y="432" width="3" height="13" fill="#ff0000"/>
<rect x="922" y="430" width="1" height="17" fill="#00ff00"/>
<rect x="921" y="432" width="3" height="14" fill="#00ff00"/>
<rect x="926" y="442" width="1" height="7" fill="#00ff00"/>
<rect x="925" y="444" width="3" height="4" fill="#00ff00"/>
<rect x="930" y="425" width="1" height="28" fill="#ff0000"/>
<rect x="929" y="426" width="3" height="20" fill="#ff0000"/>
<rect x="934" y="420" width="1" height="14" fill="#ff0000"/>
<rect x="933" y="426" width="3" height="1" fill="#ff0000"/>
<rect x="938" y="426" width="1" height="9" fill="#00ff00"/>
<rect x="937" y="426" width="3" height="8" fill="#00ff00"/>
<rect x="942" y="433" width="1" height="13" fill="#00ff00"/>
<rect x="941" y="434" width="3" height="7" fill="#00ff00"/>
<rect x="946" y="430" width="1" height="11" fill="#ff0000"/>
<rect x="945" y="437" width="3" height="2" fill="#ff0000"/>
<rect x="950" y="434" width="1" height="5" fill="#ff0000"/>
<rect x="949" y="436" width="3" height="2" fill="#ff0000"/>
<rect x="954" y="426" width="1" height="15" fill="#ff0000"/>
<rect x="953" y="431" width="3" height="4" fill="#ff0000"/>
<rect x="958" y="427" width="1" height="21" fill="#00ff00"/>
<rect x="957" y="430" width="3" height="13" fill="#00ff00"/>
<rect x="962" y="441" width="1" height="12" fill="#00ff00"/>
<rect x="961" y="442" width="3" height="6" fill="#00ff00"/>
<rect x="966" y="445" width="1" height="19" fill="#00ff00"/>
<rect x="965" y="446" width="3" height="13" fill="#00ff00"/>
<rect x="970" y="454" width="1" height="19" fill="#00ff00"/>
<rect x="969" y="458" width="3" height="13" fill="#00ff00"/>
<rect x="974" y="469" width="1" height="7" fill="#00ff00"/>
<rect x="973" y="470" width="3" height="3" fill="#00ff00"/>
<rect x="978" y="458" width="1" height="16" fill="#ff0000"/>
<rect x="977" y="468" width="3" height="4" fill="#ff0000"/>
<rect x="982" y="464" width="1" height="12" fill="#00ff00"/>
<rect x="981" y="465" width="3" height="5" fill="#00ff00"/>
<rect x="986" y="464" width="1" height="18" fill="#ff0000"/>
<rect x="985" y="464" width="3" height="3" fill="#ff0000"/>
<rect x="990" y="452" width="1" height="13" fill="#ff0000"/>
<rect x="989" y="453" width="3" height="12" fill="#ff0000"/>
<rect x="994" y="452" width="1" height="10" fill="#00ff00"/>
<rect x="993" y="454" width="3" height="3" fill="#00ff00"/>
<rect x="998" y="454" width="1" height="6" fill="#00ff00"/>
<rect x="997" y="455" width="3" height="3" fill="#00ff00"/>
<rect x="1002" y="458" width="1" height="12" fill="#ff0000"/>
<rect x="1001" y="458" width="3" height="4" fill="#ff0000"/>
<rect x="1006" y="452" width="1" height="13" fill="#00ff00"/>
<rect x="1005" y="458" width="3" height="7" fill="#00ff00"/>
<rect x="1010" y="462" width="1" height="15" fill="#00ff00"/>
<rect x="1009" y="463" width="3" height="11" fill="#00ff00"/>
<rect x="1014" y="468" width="1" height="12" fill="#ff0000"/>
<rect x="1013" y="469" width="3" height="5" fill="#ff0000"/>
<rect x="1018" y="459" width="1" height="15" fill="#ff0000"/>
<rect x="1017" y="468" width="3" height="2" fill="#ff0000"/>
<rect x="1022" y="468" width="1" height="3" fill="#ff0000"/>
<rect x="1021" y="469" width="3" height="1" fill="#ff0000"/>
<rect x="1026" y="447" width="1" height="19" fill="#ff0000"/>
<rect x="1025" y="457" width="3" height="9" fill="#ff0000"/>
<rect x="1030" y="449" width="1" height="13" fill="#ff0000"/>
<rect x="1029" y="454" width="3" height="6" fill="#ff0000"/>
<rect x="1034" y="450" width="1" height="12" fill="#00ff00"/>
<rect x="1033" y="453" width="3" height="9" fill="#00ff00"/>
<rect x="1038" y="458" width="1" height="13" fill="#00ff00"/>
<rect x="1037" y="460" width="3" height="11" fill="#00ff00"/>
<rect x="1042" y="469" width="1" height="2" fill="#ff0000"/>
<rect x="1041" y="469" width="3" height="2" fill="#ff0000"/>
<rect x="1046" y="457" width="1" height="15" fill="#ff0000"/>
<rect x="1045" y="458" width="3" height="13" fill="#ff0000"/>
<rect x="1050" y="457" width="1" height="15" fill="#00ff00"/>
<rect x="1049" y="458" width="3" height="10" fill="#00ff00"/>
<rect x="1054" y="465" width="1" height="15" fill="#00ff00"/>
<rect x="1053" y="469" width="3" height="9" fill="#00ff00"/>
<rect x="1058" y="476" width="1" height="12" fill="#00ff00"/>
<rect x="1057" y="477" width="3" height="6" fill="#00ff00"/>
<rect x="1062" y="478" width="1" height="6" fill="#ff0000"/>
<rect x="1061" y="480" width="3" height="3" fill="#ff0000"/>
<rect x="1066" y="478" width="1" height="1" fill="#000000"/>
<rect x="1065" y="478" width="3" height="1" fill="#000000"/>
<rect x="1070" y="483" width="1" height="34" fill="#00ff00"/>
<rect x="1069" y="483" width="3" height="27" fill="#00ff00"/>
<rect x="1074" y="501" width="1" height="34" fill="#00ff00"/>
<rect x="1073" y="509" width="3" height="8" fill="#00ff00"/>
<rect x="1078" y="506" width="1" height="21" fill="#ff0000"/>
<rect x="1077" y="508" width="3" height="9" fill="#ff0000"/>
<rect x="1082" y="497" width="1" height="22" fill="#ff0000"/>
<rect x="1081" y="497" width="3" height="13" fill="#ff0000"/>
<rect x="1086" y="493" width="1" height="17" fill="#00ff00"/>
<rect x="1085" y="497" width="3" height="9" fill="#00ff00"/>
<rect x="1090" y="493" width="1" height="15" fill="#ff0000"/>
<rect x="1089" y="500" width="3" height="4" fill="#ff0000"/>
<rect x="1094" y="485" width="1" height="15" fill="#ff0000"/>
<rect x="1093" y="493" width="3" height="3" fill="#ff0000"/>
<rect x="1098" y="492" width="1" height="18" fill="#00ff00"/>
<rect x="1097" y="492" width="3" height="12" fill="#00ff00"/>
<rect x="1102" y="501" width="1" height="16" fill="#ff0000"/>
<rect x="1101" y="502" width="3" height="2" fill="#ff0000"/>
<rect x="1106" y="492" width="1" height="14" fill="#ff0000"/>
<rect x="1105" y="497" width="3" height="6" fill="#ff0000"/>
<rect x="1110" y="490" width="1" height="14" fill="#ff0000"/>
<rect x="1109" y="490" width="3" height="8" fill="#ff0000"/>
<rect x="1114" y="488" width="1" height="6" fill="#ff0000"/>
<rect x="1113" y="489" width="3" height="3" fill="#ff0000"/>
<rect x="1118" y="474" width="1" height="18" fill="#ff0000"/>
<rect x="1117" y="482" width="3" height="7" fill="#ff0000"/>
<rect x="1122" y="480" width="1" height="16" fill="#00ff00"/>
<rect x="1121" y="482" width="3" height="13" fill="#00ff00"/>
<rect x="1126" y="489" width="1" height="15" fill="#00ff00"/>
<rect x="1125" y="490" width="3" height="13" fill="#00ff00"/>
<rect x="1130" y="499" width="1" height="9" fill="#ff0000"/>
<rect x="1129" y="500" width="3" height="4" fill="#ff0000"/>
<rect x="1134" y="480" width="1" height="24" fill="#ff0000"/>
<rect x="1133" y="485" width="3" height="16" fill="#ff0000"/>
<rect x="1138" y="480" width="1" height="5" fill="#ff0000"/>
<rect x="1137" y="480" width="3" height="4" fill="#ff0000"/>
<rect x="1142" y="481" width="1" height="7" fill="#00ff00"/>
<rect x="1141" y="482" width="3" height="5" fill="#00ff00"/>
<rect x="1146" y="484" width="1" height="15" fill="#00ff00"/>
<rect x="1145" y="485" width="3" height="13" fill="#00ff00"/>
<rect x="1150" y="479" width="1" height="22" fill="#ff0000"/>
<rect x="1149" y="483" width="3" height="16" fill="#ff0000"/>
<rect x="1154" y="470" width="1" height="30" fill="#00ff00"/>
<rect x="1153" y="483" width="3" height="13" fill="#00ff00"/>
<rect x="1158" y="493" width="1" height="24" fill="#00ff00"/>
<rect x="1157" y="494" width="3" height="22" fill="#00ff00"/>
<rect x="1162" y="506" width="1" height="10" fill="#ff0000"/>
<rect x="1161" y="510" width="3" height="5" fill="#ff0000"/>
<rect x="1166" y="492" width="1" height="22" fill="#ff0000"/>
<rect x="1165" y="494" width="3" height="15" fill="#ff0000"/>
<rect x="1170" y="492" width="1" height="16" fill="#00ff00"/>
<rect x="1169" y="493" width="3" height="10" fill="#00ff00"/>
<rect x="1174" y="499" width="1" height="9" fill="#ff0000"/>
<rect x="1173" y="501" width="3" height="2" fill="#ff0000"/>
<rect x="1178" y="493" width="1" height="13" fill="#ff0000"/>
<rect x="1177" y="494" width="3" height="7" fill="#ff0000"/>
<rect x="1182" y="487" width="1" height="17" fill="#00ff00"/>
<rect x="1181" y="494" width="3" height="10" fill="#00ff00"/>
<rect x="1186" y="502" width="1" height="4" fill="#00ff00"/>
<rect x="1185" y="502" width="3" height="3" fill="#00ff00"/>
<rect x="1190" y="503" width="1" height="14" fill="#00ff00"/>
<rect x="1189" y="505" width="3" height="11" fill="#00ff00"/>
<rect x="1194" y="511" width="1" height="18" fill="#00ff00"/>
<rect x="1193" y="516" width="3" height="13" fill="#00ff00"/>
<rect x="1198" y="522" width="1" height="12" fill="#ff0000"/>
<rect x="1197" y="523" width="3" height="6" fill="#ff0000"/>
<rect x="1202" y="521" width="1" height="10" fill="#00ff00"/>
<rect x="1201" y="523" width="3" height="8" fill="#00ff00"/>
<rect x="1206" y="518" width="1" height="13" fill="#ff0000"/>
<rect x="1205" y="527" width="3" height="4" fill="#ff0000"/>
<rect x="1210" y="526" width="1" height="4" fill="#00ff00"/>
<rect x="1209" y="527" width="3" height="2" fill="#00ff00"/>
<rect x="1214" y="527" width="1" height="13" fill="#00ff00"/>
<rect x="1213" y="528" width="3" height="11" fill="#00ff00"/>
<rect x="1218" y="523" width="1" height="17" fill="#ff0000"/>
<rect x="1217" y="527" width="3" height="12" fill="#ff0000"/>
<rect x="1222" y="510" width="1" height="19" fill="#ff0000"/>
<rect x="1221" y="513" width="3" height="16" fill="#ff0000"/>
<rect x="1226" y="497" width="1" height="26" fill="#ff0000"/>
<rect x="1225" y="497" width="3" height="21" fill="#ff0000"/>
<rect x="1230" y="497" width="1" height="22" fill="#00ff00"/>
<rect x="1229" y="497" width="3" height="11" fill="#00ff00"/>
<rect x="1234" y="501" width="1" height="7" fill="#ff0000"/>
<rect x="1233" y="502" width="3" height="5" fill="#ff0000"/>
<rect x="1238" y="494" width="1" height="18" fill="#ff0000"/>
<rect x="1237" y="495" width="3" height="16" fill="#ff0000"/>
<rect x="1242" y="495" width="1" height="15" fill="#00ff00"/>
<rect x="1241" y="495" width="3" height="11" fill="#00ff00"/>
<rect x="1246" y="499" width="1" height="17" fill="#00ff00"/>
<rect x="1245" y="501" width="3" height="6" fill="#00ff00"/>
<rect x="1250" y="502" width="1" height="12" fill="#ff0000"/>
<rect x="1249" y="503" width="3" height="4" fill="#ff0000"/>
<rect x="1254" y="474" width="1" height="31" fill="#ff0000"/>
<rect x="1253" y="493" width="3" height="11" fill="#ff0000"/>
</g>
<path fill="#0000cd" d="M2 177h2v1h-2zM4 176h2v1h-2zM6 175h2v1h-2zM8 174h2v1h-2zM10 173h11v1h-11zM21 174h4v1h-4zM25 175h4v1h-4zM29 176h3v1h-3zM32 177h2v1h-2zM34 178h3v1h-3zM37 179h4v1h-4zM41 180h4v1h-4zM45 181h12v1h-12zM57 180h4v1h-4zM61 179h8v1h-8zM69 178h2v1h-2zM71 177h2v1h-2zM73 176h1v1h-1zM74 175h2v1h-2zM76 174h2v1h-2zM78 173h1v1h-1zM79 172h2v1h-2zM81 171h1v1h-1zM82 170h1v1h-1zM83 169h2v1h-2zM85 168h1v1h-1zM86 167h1v1h-1zM87 166h2v1h-2zM89 165h1v1h-1zM90 164h2v1h-2zM92 163h2v1h-2zM94 162h2v1h-2zM96 161h2v1h-2zM98 160h2v1h-2zM100 159h2v1h-2zM102 158h2v1h-2zM104 157h2v1h-2zM106 156h3v1h-3zM109 155h3v1h-3zM112 154h2v1h-2zM114 153h6v1h-6zM120 152h2v1h-2zM122 151h3v1h-3zM125 150h2v1h-2zM127 149h2v1h-2zM129 148h1v1h-1zM130 147h2v1h-2zM132 146h2v1h-2zM134 145h1v1h-1zM135 144h2v1h-2zM137 143h1v1h-1zM138 142h1v1h-1zM139 141h2v1h-2zM141 140h1v1h-1zM142 139h1v1h-1zM143 138h2v1h-2zM145 137h1v1h-1zM146 136h2v1h-2zM148 135h2v1h-2zM150 134h1v1h-1zM151 133h2v1h-2zM153 132h1v1h-1zM154 131h2v1h-2zM156 130h2v1h-2zM158 129h2v1h-2zM160 128h2v1h-2zM162 127h2v1h-2zM164 126h2v1h-2zM166 125h2v1h-2zM168 124h2v1h-2zM170 123h3v1h-3zM173 122h4v1h-4zM177 121h4v1h-4zM181 120h3v1h-3zM184 119h2v1h-2zM186 118h3v1h-3zM189 117h4v1h-4zM193 116h3v1h-3zM196 117h2v1h-2zM198 118h7v1h-7zM205 119h4v1h-4zM209 120h8v1h-8zM217 121h12v1h-12zM229 120h8v1h-8zM237 119h8v1h-8zM245 118h4v1h-4zM249 119h12v1h-12zM261 118h4v1h-4zM265 117h4v1h-4zM269 116h3v1h-3zM272 115h2v1h-2zM274 114h2v1h-2zM276 113h2v1h-2zM278 112h3v1h-3zM281 111h4v1h-4zM285 110h4v1h-4zM289 109h4v1h-4zM293 108h4v1h-4zM297 107h3v1h-3zM300 106h2v1h-2zM302 105h3v1h-3zM305 104h4v1h-4zM309 103h3v1h-3zM312 102h2v1h-2zM314 101h3v1h-3zM317 100h4v1h-4zM321 99h3v1h-3zM324 98h2v1h-2zM326 97h3v1h-3zM329 96h8v1h-8zM337 95h4v1h-4zM341 94h3v1h-3zM344 95h2v1h-2zM346 96h3v1h-3zM349 97h4v1h-4zM353 98h4v1h-4zM357 99h3v1h-3zM360 100h2v1h-2zM362 101h11v1h-11zM373 102h12v1h-12zM385 103h4v1h-4zM389 104h4v1h-4zM393 105h4v1h-4zM397 106h4v1h-4zM401 107h4v1h-4zM405 108h4v1h-4zM409 109h4v1h-4zM413 110h4v1h-4zM417 111h3v1h-3zM420 112h2v1h-2zM422 113h3v1h-3zM425 114h4v1h-4zM429 115h2v1h-2zM431 116h2v1h-2zM433 117h1v1h-1zM434 118h2v1h-2zM436 119h2v1h-2zM438 120h2v1h-2zM440 121h2v1h-2zM442 122h2v1h-2zM444 123h2v1h-2zM446 124h2v1h-2zM448 125h2v1h-2zM450 126h2v1h-2zM452 127h2v1h-2zM454 128h2v1h-2zM456 129h2v1h-2zM458 130h1v1h-1zM459 131h2v1h-2zM461 132h1v1h-1zM462 133h3v1h-3zM465 134h4v1h-4zM469 135h3v1h-3zM472 136h2v1h-2zM474 137h3v1h-3zM477 138h4v1h-4zM481 139h3v1h-3zM484 140h2v1h-2zM486 141h2v1h-2zM488 142h2v1h-2zM490 143h2v1h-2zM492 144h2v1h-2zM494 145h2v1h-2zM496 146h2v1h-2zM498 147h2v1h-2zM500 148h2v1h-2zM502 149h2v1h-2zM504 150h2v1h-2zM506 151h3v1h-3zM509 152h4v1h-4zM513 153h4v1h-4zM517 154h3v1h-3zM520 155h2v1h-2zM522 156h3v1h-3zM525 157h4v1h-4zM529 158h4v1h-4zM533 159h2v1h-2zM535 160h2v1h-2zM537 161h1v1h-1zM538 162h2v1h-2zM540 163h2v1h-2zM542 164h2v1h-2zM544 165h2v1h-2zM546 166h2v1h-2zM548 167h2v1h-2zM550 168h2v1h-2zM552 169h2v1h-2zM554 170h1v1h-1zM555 171h2v1h-2zM557 172h1v1h-1zM558 173h2v1h-2zM560 174h2v1h-2zM562 175h2v1h-2zM564 176h2v1h-2zM566 177h3v1h-3zM569 178h4v1h-4zM573 179h3v1h-3zM576 180h2v1h-2zM578 181h3v1h-3zM581 182h4v1h-4zM585 183h4v1h-4zM589 184h3v1h-3zM592 185h2v1h-2zM594 186h2v1h-2zM596 187h2v1h-2zM598 188h3v1h-3zM601 189h3v1h-3zM604 190h2v1h-2zM606 191h3v1h-3zM609 192h3v1h-3zM612 193h2v1h-2zM614 194h3v1h-3zM617 195h3v1h-3zM620 196h2v1h-2zM622 197h2v1h-2zM624 198h2v1h-2zM626 199h1v1h-1zM627 200h2v1h-2zM629 201h1v1h-1zM630 202h1v1h-1zM631 203h2v1h-2zM633 204h1v1h-1zM634 205h1v1h-1zM635 206h2v1h-2zM637 207h1v1h-1zM638 208h1v1h-1zM639 209h2v1h-2zM641 210h1v1h-1zM642 211h1v1h-1zM643 212h1v1h-1zM644 213h1v1h-1zM645 214h1v1h-1zM646 215h1v1h-1zM647 216h2v1h-2zM649 217h1v1h-1zM650 218h1v1h-1zM651 219h2v1h-2zM653 220h1v1h-1zM654 221h1v1h-1zM655 222h2v1h-2zM657 223h1v1h-1zM658 224h1v1h-1zM659 225h2v1h-2zM661 226h1v1h-1zM662 227h1v1h-1zM663 228h1v1h-1zM664 229h1v1h-1zM665 230h1v1h-1zM666 231h2v1h-2zM668 232h2v1h-2zM670 233h2v1h-2zM672 234h2v1h-2zM674 235h1v1h-1zM675 236h2v1h-2zM677 237h1v1h-1zM678 238h2v1h-2zM680 239h2v1h-2zM682 240h1v1h-1zM683 241h2v1h-2zM685 242h1v1h-1zM686 243h1v1h-1zM687 244h2v1h-2zM689 245h1v1h-1zM690 246h1v1h-1zM691 247h2v1h-2zM693 248h1v1h-1zM694 249h1v1h-1zM695 250h1v1h-1zM696 251h1v1h-1zM697 252h1v1h-1zM698 253h1v1h-1zM699 254h1v1h-1zM700 255h1v1h-1zM701 256h1v1h-1zM702 257h1v1h-1zM703 258h2v1h-2zM705 259h1v1h-1zM706 260h1v1h-1zM707 261h1v1h-1zM708 262h1v1h-1zM709 263h1v1h-1zM710 264h2v1h-2zM712 265h2v1h-2zM714 266h1v1h-1zM715 267h2v1h-2zM717 268h1v1h-1zM718 269h2v1h-2zM720 270h2v1h-2zM722 271h3v1h-3zM725 272h3v1h-3zM728 273h2v1h-2zM730 274h2v1h-2zM732 275h2v1h-2zM734 276h2v1h-2zM736 277h2v1h-2zM738 278h2v1h-2zM740 279h2v1h-2zM742 280h2v1h-2zM744 281h2v1h-2zM746 282h2v1h-2zM748 283h2v1h-2zM750 284h2v1h-2zM752 285h2v1h-2zM754 286h1v1h-1zM755 287h2v1h-2zM757 288h1v1h-1zM758 289h2v1h-2zM760 290h2v1h-2zM762 291h2v1h-2zM764 292h2v1h-2zM766 293h2v1h-2zM768 294h2v1h-2zM770 295h1v1h-1zM771 296h2v1h-2zM773 297h1v1h-1zM774 298h1v1h-1zM775 299h2v1h-2zM777 300h1v1h-1zM778 301h1v1h-1zM779 302h2v1h-2zM781 303h1v1h-1zM782 304h2v1h-2zM784 305h2v1h-2zM786 306h2v1h-2zM788 307h2v1h-2zM790 308h1v1h-1zM791 309h2v1h-2zM793 310h1v1h-1zM794 311h2v1h-2zM796 312h2v1h-2zM798 313h1v1h-1zM799 314h2v1h-2zM801 315h1v1h-1zM802 316h1v1h-1zM803 317h2v1h-2zM805 318h1v1h-1zM806 319h2v1h-2zM808 320h2v1h-2zM810 321h1v1h-1zM811 322h2v1h-2zM813 323h1v1h-1zM814 324h2v1h-2zM816 325h2v1h-2zM818 326h2v1h-2zM820 327h2v1h-2zM822 328h2v1h-2zM824 329h2v1h-2zM826 330h2v1h-2zM828 331h2v1h-2zM830 332h2v1h-2zM832 333h2v1h-2zM834 334h2v1h-2zM836 335h2v1h-2zM838 336h2v1h-2zM840 337h2v1h-2zM842 338h2v1h-2zM844 339h2v1h-2zM846 340h1v1h-1zM847 341h2v1h-2zM849 342h1v1h-1zM850 343h1v1h-1zM851 344h2v1h-2zM853 345h1v1h-1zM854 346h2v1h-2zM856 347h2v1h-2zM858 348h1v1h-1zM859 349h1v1h-1zM860 350h1v1h-1zM861 351h1v1h-1zM862 352h2v1h-2zM864 353h2v1h-2zM866 354h1v1h-1zM867 355h2v1h-2zM869 356h1v1h-1zM870 357h1v1h-1zM871 358h1v1h-1zM872 359h1v1h-1zM873 360h1v1h-1zM874 361h1v1h-1zM875 362h2v1h-2zM877 363h1v1h-1zM878 364h2v1h-2zM880 365h2v1h-2zM882 366h1v1h-1zM883 367h2v1h-2zM885 368h1v1h-1zM886 369h2v1h-2zM888 370h2v1h-2zM890 371h1v1h-1zM891 372h2v1h-2zM893 373h1v1h-1zM894 374h3v1h-3zM897 375h3v1h-3zM900 376h2v1h-2zM902 377h1v1h-1zM903 378h2v1h-2zM905 379h1v1h-1zM906 380h1v1h-1zM907 381h1v1h-1zM908 382h1v1h-1zM909 383h1v1h-1zM910 384h1v1h-1zM911 385h2v1h-2zM913 386h1v1h-1zM914 387h1v1h-1zM915 388h2v1h-2zM917 389h1v1h-1zM918 390h1v1h-1zM919 391h2v1h-2zM921 392h1v1h-1zM922 393h1v1h-1zM923 394h2v1h-2zM925 395h1v1h-1zM926 396h2v1h-2zM928 397h2v1h-2zM930 398h3v1h-3zM933 399h3v1h-3zM936 400h2v1h-2zM938 401h2v1h-2zM940 402h2v1h-2zM942 403h2v1h-2zM944 404h2v1h-2zM946 405h2v1h-2zM948 406h2v1h-2zM950 407h2v1h-2zM952 408h2v1h-2zM954 409h1v1h-1zM955 410h2v1h-2zM957 411h1v1h-1zM958 412h1v1h-1zM959 413h1v1h-1zM960 414h1v1h-1zM961 415h1v1h-1zM962 416h1v1h-1zM963 417h1v1h-1zM964 418h1v1h-1zM965 419h1v1h-1zM966 420h1v1h-1zM967 421h1v1h-1zM968 422h1v1h-1zM969 423h1v1h-1zM970 424h1v1h-1zM971 425h2v1h-2zM973 426h1v1h-1zM974 427h1v1h-1zM975 428h1v1h-1zM976 429h1v1h-1zM977 430h1v1h-1zM978 431h1v1h-1zM979 432h2v1h-2zM981 433h1v1h-1zM982 434h2v1h-2zM984 435h2v1h-2zM986 436h2v1h-2zM988 437h2v1h-2zM990 438h3v1h-3zM993 439h4v1h-4zM997 440h3v1h-3zM1000 441h2v1h-2zM1002 442h3v1h-3zM1005 443h2v1h-2zM1007 444h2v1h-2zM1009 445h1v1h-1zM1010 446h2v1h-2zM1012 447h2v1h-2zM1014 448h3v1h-3zM1017 449h3v1h-3zM1020 450h2v1h-2zM1022 451h3v1h-3zM1025 452h8v1h-8zM1033 453h4v1h-4zM1037 454h4v1h-4zM1041 455h8v1h-8zM1049 456h3v1h-3zM1052 457h2v1h-2zM1054 458h2v1h-2zM1056 459h2v1h-2zM1058 460h3v1h-3zM1061 461h3v1h-3zM1064 462h2v1h-2zM1066 463h2v1h-2zM1068 464h2v1h-2zM1070 465h1v1h-1zM1071 466h2v1h-2zM1073 467h1v1h-1zM1074 468h2v1h-2zM1076 469h2v1h-2zM1078 470h2v1h-2zM1080 471h2v1h-2zM1082 472h3v1h-3zM1085 473h4v1h-4zM1089 474h4v1h-4zM1093 475h4v1h-4zM1097 476h4v1h-4zM1101 477h4v1h-4zM1105 478h3v1h-3zM1108 479h2v1h-2zM1110 480h3v1h-3zM1113 481h7v1h-7zM1120 482h2v1h-2zM1122 483h3v1h-3zM1125 484h4v1h-4zM1129 485h8v1h-8zM1137 486h7v1h-7zM1144 487h2v1h-2zM1146 488h3v1h-3zM1149 489h4v1h-4zM1153 490h4v1h-4zM1157 491h3v1h-3zM1160 492h2v1h-2zM1162 493h3v1h-3zM1165 494h4v1h-4zM1169 495h4v1h-4zM1173 496h8v1h-8zM1181 497h4v1h-4zM1185 498h12v1h-12zM1197 499h4v1h-4zM1201 500h4v1h-4zM1205 501h4v1h-4zM1209 502h4v1h-4zM1213 503h4v1h-4zM1217 504h12v1h-12zM1229 505h8v1h-8zM1237 506h16v1h-16zM1253 507h2v1h-2z"/>
<path fill="#ff0000" d="M2 168h2v1h-2zM4 167h2v1h-2zM6 166h7v1h-7zM13 165h3v1h-3zM16 166h2v1h-2zM18 167h2v1h-2zM20 168h2v1h-2zM22 169h2v1h-2zM24 170h2v1h-2zM26 171h2v1h-2zM28 172h2v1h-2zM30 173h1v1h-1zM31 174h1v1h-1zM32 175h1v1h-1zM33 176h1v1h-1zM34 177h1v1h-1zM35 178h1v1h-1zM36 179h1v2h-1zM37 181h1v1h-1zM38 182h1v1h-1zM39 183h1v1h-1zM40 184h1v1h-1zM41 185h1v1h-1zM42 186h1v1h-1zM43 187h1v1h-1zM44 188h1v1h-1zM45 189h1v1h-1zM46 190h2v1h-2zM48 191h2v1h-2zM50 192h7v1h-7zM57 193h4v1h-4zM61 192h4v1h-4zM65 191h3v1h-3zM68 190h2v1h-2zM70 189h1v1h-1zM71 188h1v1h-1zM72 186h1v2h-1zM73 185h1v1h-1zM74 183h1v2h-1zM75 181h1v2h-1zM76 179h1v2h-1zM77 177h1v2h-1zM78 174h1v3h-1zM79 172h1v2h-1zM80 169h1v3h-1zM81 167h1v2h-1zM82 164h1v3h-1zM83 162h1v2h-1zM84 160h1v2h-1zM85 158h1v2h-1zM86 156h1v2h-1zM87 154h1v2h-1zM88 152h1v2h-1zM89 150h1v2h-1zM90 148h1v2h-1zM91 146h1v2h-1zM92 145h1v1h-1zM93 143h1v2h-1zM94 141h1v2h-1zM95 139h1v2h-1zM96 137h1v2h-1zM97 135h1v2h-1zM98 134h1v1h-1zM99 132h1v2h-1zM100 131h1v1h-1zM101 129h1v2h-1zM102 128h1v1h-1zM103 126h1v2h-1zM104 125h1v1h-1zM105 123h1v2h-1zM106 122h2v1h-2zM108 121h2v1h-2zM110 120h1v1h-1zM111 119h1v1h-1zM112 118h1v1h-1zM113 117h1v1h-1zM114 116h1v1h-1zM115 115h2v1h-2zM117 114h1v1h-1zM118 113h1v1h-1zM119 112h1v1h-1zM120 110h1v2h-1zM121 109h1v1h-1zM122 108h2v1h-2zM124 107h2v1h-2zM126 106h2v1h-2zM128 105h2v1h-2zM130 104h2v1h-2zM132 105h2v1h-2zM134 106h3v1h-3zM137 107h2v1h-2zM139 108h1v1h-1zM140 109h1v1h-1zM141 110h1v1h-1zM142 111h2v1h-2zM144 112h2v1h-2zM146 113h3v1h-3zM149 114h2v1h-2zM151 115h1v1h-1zM152 116h1v1h-1zM153 117h1v1h-1zM154 118h2v1h-2zM156 119h2v1h-2zM158 120h2v1h-2zM160 121h2v1h-2zM162 122h2v1h-2zM164 123h2v1h-2zM166 124h2v1h-2zM168 125h2v1h-2zM170 126h6v1h-6zM176 127h2v1h-2zM178 128h6v1h-6zM184 129h2v1h-2zM186 130h11v1h-11zM197 129h4v1h-4zM201 128h3v1h-3zM204 127h2v1h-2zM206 126h2v1h-2zM208 125h2v1h-2zM210 124h2v1h-2zM212 123h2v1h-2zM214 122h3v1h-3zM217 121h4v1h-4zM221 120h2v1h-2zM223 119h2v1h-2zM225 118h1v1h-1zM226 117h2v1h-2zM228 116h2v1h-2zM230 115h2v1h-2zM232 114h2v1h-2zM234 113h2v1h-2zM236 112h2v1h-2zM238 111h2v1h-2zM240 110h2v1h-2zM242 109h7v1h-7zM249 110h4v1h-4zM253 109h4v1h-4zM257 108h8v1h-8zM265 107h4v1h-4zM269 106h2v1h-2zM271 105h2v1h-2zM273 104h1v1h-1zM274 103h2v1h-2zM276 102h2v1h-2zM278 101h3v1h-3zM281 102h4v1h-4zM285 103h4v1h-4zM289 104h4v1h-4zM293 103h6v1h-6zM299 102h2v1h-2zM301 101h1v1h-1zM302 100h2v1h-2zM304 99h2v1h-2zM306 98h2v1h-2zM308 97h2v1h-2zM310 96h1v1h-1zM311 95h1v1h-1zM312 94h1v1h-1zM313 93h1v1h-1zM314 92h2v1h-2zM316 91h2v1h-2zM318 90h1v1h-1zM319 89h2v1h-2zM321 88h1v1h-1zM322 87h3v1h-3zM325 86h8v1h-8zM333 87h12v1h-12zM345 88h3v1h-3zM348 89h2v1h-2zM350 90h1v1h-1zM351 91h1v1h-1zM352 92h1v1h-1zM353 93h1v1h-1zM354 94h1v1h-1zM355 95h2v1h-2zM357 96h1v1h-1zM358 97h1v1h-1zM359 98h1v1h-1zM360 99h1v1h-1zM361 100h1v1h-1zM362 101h1v1h-1zM363 102h2v1h-2zM365 103h1v1h-1zM366 104h1v1h-1zM367 105h1v1h-1zM368 106h1v2h-1zM369 108h1v1h-1zM370 109h1v1h-1zM371 110h1v1h-1zM372 111h1v1h-1zM373 112h1v1h-1zM374 113h1v1h-1zM375 114h2v1h-2zM377 115h1v1h-1zM378 116h1v1h-1zM379 117h2v1h-2zM381 118h1v1h-1zM382 119h1v1h-1zM383 120h2v1h-2zM385 121h1v1h-1zM386 122h3v1h-3zM389 123h3v1h-3zM392 124h2v1h-2zM394 125h3v1h-3zM397 126h4v1h-4zM401 127h4v1h-4zM405 128h4v1h-4zM409 127h8v1h-8zM417 126h4v1h-4zM421 125h12v1h-12zM433 126h4v1h-4zM437 127h4v1h-4zM441 128h6v1h-6zM447 129h2v1h-2zM449 130h1v1h-1zM450 131h1v1h-1zM451 132h2v1h-2zM453 133h1v1h-1zM454 134h2v1h-2zM456 135h2v1h-2zM458 136h1v1h-1zM459 137h2v1h-2zM461 138h1v1h-1zM462 139h2v1h-2zM464 140h2v1h-2zM466 141h1v1h-1zM467 142h2v1h-2zM469 143h1v1h-1zM470 144h1v1h-1zM471 145h1v1h-1zM472 146h1v1h-1zM473 147h1v1h-1zM474 148h1v1h-1zM475 149h1v1h-1zM476 150h1v1h-1zM477 151h1v1h-1zM478 152h1v1h-1zM479 153h1v1h-1zM480 154h1v1h-1zM481 155h1v1h-1zM482 156h1v1h-1zM483 157h2v1h-2zM485 158h1v1h-1zM486 159h1v1h-1zM487 160h1v1h-1zM488 161h1v1h-1zM489 162h1v1h-1zM490 163h1v1h-1zM491 164h2v1h-2zM493 165h1v1h-1zM494 166h1v1h-1zM495 167h1v1h-1zM496 168h1v1h-1zM497 169h1v1h-1zM498 170h1v1h-1zM499 171h1v1h-1zM500 172h1v1h-1zM501 173h1v1h-1zM502 174h7v1h-7zM509 175h4v1h-4zM513 174h3v1h-3zM516 173h2v1h-2zM518 172h3v1h-3zM521 173h24v1h-24zM545 174h6v1h-6zM551 175h2v1h-2zM553 176h1v1h-1zM554 177h3v1h-3zM557 178h4v1h-4zM561 179h3v1h-3zM564 180h2v1h-2zM566 181h1v1h-1zM567 182h2v1h-2zM569 183h1v1h-1zM570 184h1v1h-1zM571 185h2v1h-2zM573 186h1v1h-1zM574 187h1v1h-1zM575 188h2v1h-2zM577 189h1v1h-1zM578 190h2v1h-2zM580 191h2v1h-2zM582 192h1v1h-1zM583 193h2v1h-2zM585 194h1v1h-1zM586 195h1v1h-1zM587 196h2v1h-2zM589 197h1v1h-1zM590 198h2v1h-2zM592 199h2v1h-2zM594 200h1v1h-1zM595 201h2v1h-2zM597 202h1v1h-1zM598 203h1v1h-1zM599 204h2v1h-2zM601 205h1v1h-1zM602 206h1v1h-1zM603 207h1v1h-1zM604 208h1v1h-1zM605 209h1v1h-1zM606 210h7v1h-7zM613 211h2v1h-2zM615 212h2v1h-2zM617 213h1v1h-1zM618 214h2v1h-2zM620 215h2v1h-2zM622 216h1v1h-1zM623 217h1v1h-1zM624 218h1v1h-1zM625 219h1v1h-1zM626 220h2v1h-2zM628 221h2v1h-2zM630 222h1v1h-1zM631 223h2v1h-2zM633 224h1v1h-1zM634 225h1v1h-1zM635 226h1v1h-1zM636 227h1v1h-1zM637 228h1v1h-1zM638 229h1v1h-1zM639 230h1v1h-1zM640 231h1v1h-1zM641 232h1v1h-1zM642 233h1v1h-1zM643 234h1v1h-1zM644 235h1v2h-1zM645 237h1v1h-1zM646 238h1v1h-1zM647 239h1v1h-1zM648 240h1v2h-1zM649 242h1v1h-1zM650 243h2v1h-2zM652 244h2v1h-2zM654 245h1v1h-1zM655 246h2v1h-2zM657 247h1v1h-1zM658 248h1v1h-1zM659 249h2v1h-2zM661 250h1v1h-1zM662 251h1v1h-1zM663 252h1v1h-1zM664 253h1v1h-1zM665 254h1v1h-1zM666 255h1v1h-1zM667 256h1v1h-1zM668 257h1v1h-1zM669 258h1v1h-1zM670 259h1v1h-1zM671 260h2v1h-2zM673 261h1v1h-1zM674 262h1v1h-1zM675 263h2v1h-2zM677 264h1v1h-1zM678 265h2v1h-2zM680 266h2v1h-2zM682 267h2v1h-2zM684 268h2v1h-2zM686 269h1v1h-1zM687 270h2v1h-2zM689 271h1v1h-1zM690 272h1v1h-1zM691 273h2v1h-2zM693 274h1v1h-1zM694 275h1v1h-1zM695 276h1v1h-1zM696 277h1v2h-1zM697 279h1v1h-1zM698 280h2v1h-2zM700 281h2v1h-2zM702 282h1v1h-1zM703 283h2v1h-2zM705 284h1v1h-1zM706 285h1v1h-1zM707 286h2v1h-2zM709 287h1v1h-1zM710 288h2v1h-2zM712 289h2v1h-2zM714 290h2v1h-2zM716 291h2v1h-2zM718 292h3v1h-3zM721 293h4v1h-4zM725 294h12v1h-12zM737 295h8v1h-8zM745 296h4v1h-4zM749 297h10v1h-10zM759 298h2v1h-2zM761 299h1v1h-1zM762 300h2v1h-2zM764 301h2v1h-2zM766 302h1v1h-1zM767 303h2v1h-2zM769 304h1v1h-1zM770 305h2v1h-2zM772 306h2v1h-2zM774 307h1v1h-1zM775 308h1v2h-1zM776 310h1v1h-1zM777 311h1v2h-1zM778 313h1v1h-1zM779 314h1v2h-1zM780 316h1v1h-1zM781 317h1v2h-1zM782 319h1v1h-1zM783 320h1v1h-1zM784 321h1v1h-1zM785 322h1v1h-1zM786 323h1v1h-1zM787 324h1v1h-1zM788 325h1v1h-1zM789 326h1v1h-1zM790 327h1v1h-1zM791 328h1v1h-1zM792 329h1v2h-1zM793 331h1v1h-1zM794 332h1v1h-1zM795 333h1v1h-1zM796 334h1v2h-1zM797 336h1v1h-1zM798 337h1v1h-1zM799 338h1v1h-1zM800 339h1v1h-1zM801 340h1v1h-1zM802 341h2v1h-2zM804 342h2v1h-2zM806 343h1v1h-1zM807 344h1v1h-1zM808 345h1v1h-1zM809 346h1v1h-1zM810 347h1v1h-1zM811 348h1v1h-1zM812 349h1v1h-1zM813 350h1v1h-1zM814 351h1v1h-1zM815 352h2v1h-2zM817 353h1v1h-1zM818 354h1v1h-1zM819 355h2v1h-2zM821 356h1v1h-1zM822 357h2v1h-2zM824 358h2v1h-2zM826 359h1v1h-1zM827 360h1v1h-1zM828 361h1v1h-1zM829 362h1v1h-1zM830 363h3v1h-3zM833 362h4v1h-4zM837 361h4v1h-4zM841 362h8v1h-8zM849 363h4v1h-4zM853 364h8v1h-8zM861 365h4v1h-4zM865 366h2v1h-2zM867 367h2v1h-2zM869 368h1v1h-1zM870 369h2v1h-2zM872 370h2v1h-2zM874 371h1v1h-1zM875 372h1v1h-1zM876 373h1v1h-1zM877 374h1v1h-1zM878 375h2v1h-2zM880 376h2v1h-2zM882 377h2v1h-2zM884 378h2v1h-2zM886 379h1v1h-1zM887 380h1v1h-1zM888 381h1v1h-1zM889 382h1v1h-1zM890 383h1v1h-1zM891 384h1v1h-1zM892 385h1v1h-1zM893 386h1v1h-1zM894 387h1v1h-1zM895 388h1v2h-1zM896 390h1v1h-1zM897 391h1v2h-1zM898 393h1v1h-1zM899 394h1v1h-1zM900 395h1v2h-1zM901 397h1v1h-1zM902 398h1v1h-1zM903 399h1v1h-1zM904 400h1v2h-1zM905 402h1v1h-1zM906 403h1v1h-1zM907 404h1v2h-1zM908 406h1v1h-1zM909 407h1v2h-1zM910 409h1v1h-1zM911 410h1v2h-1zM912 412h1v1h-1zM913 413h1v2h-1zM914 415h1v1h-1zM915 416h1v1h-1zM916 417h1v2h-1zM917 419h1v1h-1zM918 420h1v1h-1zM919 421h2v1h-2zM921 422h1v1h-1zM922 423h1v1h-1zM923 424h2v1h-2zM925 425h1v1h-1zM926 426h10v1h-10zM936 427h2v1h-2zM938 428h2v1h-2zM940 429h2v1h-2zM942 430h2v1h-2zM944 431h2v1h-2zM946 432h2v1h-2zM948 433h2v1h-2zM950 434h3v1h-3zM953 435h3v1h-3zM956 436h2v1h-2zM958 437h3v1h-3zM961 438h4v1h-4zM965 439h3v1h-3zM968 440h2v1h-2zM970 441h1v1h-1zM971 442h2v1h-2zM973 443h1v1h-1zM974 444h3v1h-3zM977 445h3v1h-3zM980 446h2v1h-2zM982 447h2v1h-2zM984 448h2v1h-2zM986 449h2v1h-2zM988 450h2v1h-2zM990 451h2v1h-2zM992 452h2v1h-2zM994 453h3v1h-3zM997 454h3v1h-3zM1000 455h2v1h-2zM1002 456h2v1h-2zM1004 457h2v1h-2zM1006 458h1v1h-1zM1007 459h2v1h-2zM1009 460h1v1h-1zM1010 461h2v1h-2zM1012 462h2v1h-2zM1014 463h3v1h-3zM1017 464h4v1h-4zM1021 465h4v1h-4zM1025 464h4v1h-4zM1029 463h4v1h-4zM1033 462h8v1h-8zM1041 463h8v1h-8zM1049 464h4v1h-4zM1053 465h3v1h-3zM1056 466h2v1h-2zM1058 467h3v1h-3zM1061 468h6v1h-6zM1067 469h2v1h-2zM1069 470h1v1h-1zM1070 471h1v1h-1zM1071 472h1v1h-1zM1072 473h1v1h-1zM1073 474h1v1h-1zM1074 475h1v1h-1zM1075 476h2v1h-2zM1077 477h1v1h-1zM1078 478h2v1h-2zM1080 479h2v1h-2zM1082 480h1v1h-1zM1083 481h1v1h-1zM1084 482h1v1h-1zM1085 483h1v1h-1zM1086 484h1v1h-1zM1087 485h2v1h-2zM1089 486h1v1h-1zM1090 487h2v1h-2zM1092 488h2v1h-2zM1094 489h2v1h-2zM1096 490h2v1h-2zM1098 491h1v1h-1zM1099 492h2v1h-2zM1101 493h1v1h-1zM1102 494h2v1h-2zM1104 495h2v1h-2zM1106 496h3v1h-3zM1109 497h8v1h-8zM1117 498h4v1h-4zM1121 499h4v1h-4zM1125 498h4v1h-4zM1129 497h3v1h-3zM1132 496h2v1h-2zM1134 495h3v1h-3zM1137 494h4v1h-4zM1141 493h8v1h-8zM1149 492h4v1h-4zM1153 491h4v1h-4zM1157 492h4v1h-4zM1161 493h8v1h-8zM1169 494h3v1h-3zM1172 495h2v1h-2zM1174 496h13v1h-13zM1187 497h2v1h-2zM1189 498h1v1h-1zM1190 499h1v1h-1zM1191 500h2v1h-2zM1193 501h1v1h-1zM1194 502h1v1h-1zM1195 503h2v1h-2zM1197 504h1v1h-1zM1198 505h2v1h-2zM1200 506h2v1h-2zM1202 507h1v1h-1zM1203 508h2v1h-2zM1205 509h1v1h-1zM1206 510h2v1h-2zM1208 511h2v1h-2zM1210 512h2v1h-2zM1212 513h2v1h-2zM1214 514h3v1h-3zM1217 515h3v1h-3zM1220 516h2v1h-2zM1222 517h3v1h-3zM1225 516h4v1h-4zM1229 517h16v1h-16zM1245 516h3v1h-3zM1248 515h2v1h-2zM1250 514h2v1h-2zM1252 513h2v1h-2zM1254 512h1v1h-1z"/>
<path fill="#ffa500" d="M2 154h1v1h-1zM3 155h2v1h-2zM5 156h1v1h-1zM6 157h1v1h-1zM7 158h1v2h-1zM8 160h1v1h-1zM9 161h1v2h-1zM10 163h1v1h-1zM11 164h1v2h-1zM12 166h1v1h-1zM13 167h1v2h-1zM14 169h1v1h-1zM15 170h1v2h-1zM16 172h1v1h-1zM17 173h1v2h-1zM18 175h1v2h-1zM19 177h1v3h-1zM20 180h1v4h-1zM21 184h1v3h-1zM22 187h1v3h-1zM23 190h1v3h-1zM24 193h1v2h-1zM25 195h1v3h-1zM26 198h1v2h-1zM27 200h1v2h-1zM28 202h1v1h-1zM29 203h1v2h-1zM30 205h1v1h-1zM31 206h1v2h-1zM32 208h1v1h-1zM33 209h1v2h-1zM34 211h1v1h-1zM35 212h2v1h-2zM37 213h1v1h-1zM38 214h3v1h-3zM41 213h2v1h-2zM43 211h1v2h-1zM44 210h1v1h-1zM45 208h1v2h-1zM46 207h2v1h-2zM48 206h2v1h-2zM50 204h1v2h-1zM51 200h1v4h-1zM52 197h1v3h-1zM53 193h1v4h-1zM54 190h1v3h-1zM55 187h1v3h-1zM56 185h1v2h-1zM57 182h1v3h-1zM58 179h1v3h-1zM59 177h1v2h-1zM60 174h1v3h-1zM61 172h1v2h-1zM62 170h1v2h-1zM63 169h1v1h-1zM64 168h1v1h-1zM65 167h1v1h-1zM66 165h1v2h-1zM67 163h1v2h-1zM68 161h1v2h-1zM69 159h1v2h-1zM70 157h1v2h-1zM71 156h1v1h-1zM72 154h1v2h-1zM73 153h1v1h-1zM74 151h1v2h-1zM75 147h1v4h-1zM76 143h1v4h-1zM77 139h1v4h-1zM78 136h1v3h-1zM79 133h1v3h-1zM80 130h1v3h-1zM81 127h1v3h-1zM82 123h1v4h-1zM83 119h1v4h-1zM84 115h1v4h-1zM85 111h1v4h-1zM86 107h1v4h-1zM87 104h1v3h-1zM88 101h1v3h-1zM89 98h1v3h-1zM90 96h1v2h-1zM91 96h5v1h-5zM96 97h2v1h-2zM98 98h1v1h-1zM99 99h1v1h-1zM100 100h1v2h-1zM101 102h1v1h-1zM102 103h1v1h-1zM103 104h1v1h-1zM104 105h1v1h-1zM105 106h1v1h-1zM106 107h1v1h-1zM107 108h1v1h-1zM108 109h1v1h-1zM109 110h1v1h-1zM110 111h1v1h-1zM111 110h1v1h-1zM112 108h1v2h-1zM113 107h1v1h-1zM114 106h1v1h-1zM115 107h1v2h-1zM116 109h1v2h-1zM117 111h1v2h-1zM118 113h1v1h-1zM119 112h1v1h-1zM120 111h1v1h-1zM121 110h1v1h-1zM122 109h1v1h-1zM123 110h2v1h-2zM125 111h1v1h-1zM126 112h1v1h-1zM127 111h1v1h-1zM128 110h1v1h-1zM129 109h1v1h-1zM130 108h2v1h-2zM132 109h2v1h-2zM134 110h2v1h-2zM136 109h2v1h-2zM138 108h1v1h-1zM139 109h1v2h-1zM140 111h1v2h-1zM141 113h1v2h-1zM142 115h2v1h-2zM144 116h2v1h-2zM146 117h1v2h-1zM147 119h1v2h-1zM148 121h1v2h-1zM149 123h1v2h-1zM150 125h1v1h-1zM151 126h1v2h-1zM152 128h1v2h-1zM153 130h1v2h-1zM154 132h1v1h-1zM155 133h1v2h-1zM156 135h1v2h-1zM157 137h1v2h-1zM158 139h5v1h-5zM163 140h2v1h-2zM165 141h1v1h-1zM166 142h1v1h-1zM167 141h2v1h-2zM169 140h1v1h-1zM170 139h1v1h-1zM171 138h1v1h-1zM172 137h1v1h-1zM173 136h1v1h-1zM174 135h1v1h-1zM175 134h1v1h-1zM176 133h1v1h-1zM177 132h1v1h-1zM178 131h1v1h-1zM179 130h2v1h-2zM181 129h1v1h-1zM182 128h1v1h-1zM183 127h1v1h-1zM184 126h1v1h-1zM185 125h1v1h-1zM186 124h1v1h-1zM187 123h1v1h-1zM188 122h1v1h-1zM189 121h1v1h-1zM190 120h3v1h-3zM193 119h4v1h-4zM197 118h3v1h-3zM200 117h2v1h-2zM202 116h2v1h-2zM204 115h2v1h-2zM206 114h2v1h-2zM208 115h2v1h-2zM210 116h3v1h-3zM213 117h4v1h-4zM217 118h2v1h-2zM219 119h2v1h-2zM221 120h1v1h-1zM222 121h1v1h-1zM223 119h1v2h-1zM224 118h1v1h-1zM225 116h1v2h-1zM226 115h1v1h-1zM227 114h1v1h-1zM228 112h1v2h-1zM229 111h1v1h-1zM230 110h1v1h-1zM231 108h1v2h-1zM232 107h1v1h-1zM233 105h1v2h-1zM234 104h1v1h-1zM235 103h1v1h-1zM236 102h1v1h-1zM237 101h1v1h-1zM238 100h1v1h-1zM239 98h1v2h-1zM240 96h1v2h-1zM241 94h1v2h-1zM242 93h1v1h-1zM243 94h1v1h-1zM244 95h1v2h-1zM245 97h1v1h-1zM246 98h1v1h-1zM247 99h1v2h-1zM248 101h1v1h-1zM249 102h1v2h-1zM250 104h1v1h-1zM251 105h1v1h-1zM252 106h1v1h-1zM253 107h1v1h-1zM254 108h3v1h-3zM257 109h2v1h-2zM259 110h1v1h-1zM260 111h1v1h-1zM261 112h1v1h-1zM262 113h2v1h-2zM264 112h2v1h-2zM266 111h1v1h-1zM267 110h1v1h-1zM268 109h1v1h-1zM269 108h1v1h-1zM270 107h1v1h-1zM271 106h1v1h-1zM272 104h1v2h-1zM273 103h1v1h-1zM274 102h2v1h-2zM276 101h2v1h-2zM278 100h1v1h-1zM279 99h2v1h-2zM281 98h1v1h-1zM282 97h6v1h-6zM288 98h2v1h-2zM290 99h3v1h-3zM293 100h2v1h-2zM295 99h2v1h-2zM297 98h1v1h-1zM298 97h1v1h-1zM299 96h2v1h-2zM301 95h1v1h-1zM302 94h1v1h-1zM303 93h1v1h-1zM304 92h1v1h-1zM305 91h1v1h-1zM306 90h1v1h-1zM307 89h1v1h-1zM308 87h1v2h-1zM309 86h1v1h-1zM310 84h1v2h-1zM311 82h1v2h-1zM312 80h1v2h-1zM313 78h1v2h-1zM314 77h3v1h-3zM317 76h3v1h-3zM320 75h2v1h-2zM322 74h3v1h-3zM325 73h4v1h-4zM329 74h2v1h-2zM330 75h1v1h-1zM331 76h1v2h-1zM332 78h1v3h-1zM333 81h1v2h-1zM334 83h1v2h-1zM335 85h1v1h-1zM336 86h1v2h-1zM337 88h1v1h-1zM338 89h1v1h-1zM339 90h1v2h-1zM340 92h1v1h-1zM341 93h1v2h-1zM342 95h1v2h-1zM343 97h1v2h-1zM344 99h1v3h-1zM345 102h1v2h-1zM346 104h1v3h-1zM347 107h1v2h-1zM348 109h1v2h-1zM349 111h1v2h-1zM350 113h1v1h-1zM351 114h1v2h-1zM352 116h1v1h-1zM353 117h1v2h-1zM354 119h1v1h-1zM355 120h1v1h-1zM356 121h1v2h-1zM357 123h1v1h-1zM358 124h1v1h-1zM359 125h1v2h-1zM360 127h1v2h-1zM361 129h1v2h-1zM362 131h9v1h-9zM371 130h2v1h-2zM373 129h1v1h-1zM374 128h3v1h-3zM377 127h2v1h-2zM379 126h1v1h-1zM380 125h1v1h-1zM381 124h1v1h-1zM382 123h3v1h-3zM385 122h4v1h-4zM389 121h4v1h-4zM393 122h4v1h-4zM397 123h2v1h-2zM399 124h2v1h-2zM401 125h1v1h-1zM402 126h1v1h-1zM403 127h1v1h-1zM404 128h1v1h-1zM405 129h1v1h-1zM406 130h2v1h-2zM408 131h2v1h-2zM410 132h3v1h-3zM413 131h4v1h-4zM417 130h2v1h-2zM419 129h1v1h-1zM420 128h1v1h-1zM421 127h1v1h-1zM422 126h1v1h-1zM423 125h2v1h-2zM425 124h1v1h-1zM426 123h6v1h-6zM432 124h2v1h-2zM434 125h2v1h-2zM436 126h2v1h-2zM438 127h1v1h-1zM439 128h2v1h-2zM441 129h1v1h-1zM442 130h3v1h-3zM445 131h2v1h-2zM447 132h1v2h-1zM448 134h1v1h-1zM449 135h1v2h-1zM450 137h1v1h-1zM451 138h1v2h-1zM452 140h1v1h-1zM453 141h1v2h-1zM454 143h1v2h-1zM455 145h1v2h-1zM456 147h1v2h-1zM457 149h1v2h-1zM458 151h1v3h-1zM459 154h1v2h-1zM460 156h1v2h-1zM461 158h1v2h-1zM462 160h1v2h-1zM463 162h1v2h-1zM464 164h1v2h-1zM465 166h1v2h-1zM466 168h3v1h-3zM469 169h3v1h-3zM472 170h2v1h-2zM474 171h3v1h-3zM477 170h4v1h-4zM481 171h2v1h-2zM483 172h2v1h-2zM485 173h1v1h-1zM486 174h2v1h-2zM488 175h2v1h-2zM490 176h3v1h-3zM493 177h2v1h-2zM495 178h2v1h-2zM497 179h1v1h-1zM498 180h6v1h-6zM504 179h2v1h-2zM506 178h3v1h-3zM509 177h2v1h-2zM511 176h1v1h-1zM512 174h1v2h-1zM513 173h1v1h-1zM514 172h1v1h-1zM515 171h2v1h-2zM517 170h1v1h-1zM518 169h1v1h-1zM519 168h2v1h-2zM521 167h1v1h-1zM522 166h3v1h-3zM525 167h8v1h-8zM533 168h2v1h-2zM535 169h1v1h-1zM536 170h1v2h-1zM537 172h1v1h-1zM538 173h2v1h-2zM540 174h2v1h-2zM542 175h2v1h-2zM544 176h2v1h-2zM546 177h1v1h-1zM547 178h2v1h-2zM549 179h1v1h-1zM550 180h1v2h-1zM551 182h1v2h-1zM552 184h1v2h-1zM553 186h1v2h-1zM554 188h1v2h-1zM555 190h1v1h-1zM556 191h1v1h-1zM557 192h1v1h-1zM558 193h2v1h-2zM560 194h2v1h-2zM562 195h2v1h-2zM564 196h2v1h-2zM566 197h2v1h-2zM568 198h2v1h-2zM570 199h3v1h-3zM573 198h3v1h-3zM576 199h2v1h-2zM578 200h1v1h-1zM579 201h2v1h-2zM581 202h1v1h-1zM582 203h1v1h-1zM583 204h2v1h-2zM585 205h1v1h-1zM586 206h2v1h-2zM588 207h2v1h-2zM590 208h3v1h-3zM593 209h2v1h-2zM595 210h2v1h-2zM597 211h1v1h-1zM598 212h1v1h-1zM599 213h1v1h-1zM600 214h1v2h-1zM601 216h1v1h-1zM602 217h1v1h-1zM603 218h1v1h-1zM604 219h1v1h-1zM605 220h1v1h-1zM606 221h1v1h-1zM607 222h2v1h-2zM609 223h1v1h-1zM610 224h3v1h-3zM613 225h4v1h-4zM617 224h4v1h-4zM621 225h2v1h-2zM623 226h2v1h-2zM625 227h1v1h-1zM626 228h1v1h-1zM627 229h1v1h-1zM628 230h1v2h-1zM629 232h1v1h-1zM630 233h1v1h-1zM631 234h1v2h-1zM632 236h1v2h-1zM633 238h1v2h-1zM634 240h1v1h-1zM635 241h1v2h-1zM636 243h1v1h-1zM637 244h1v2h-1zM638 246h1v2h-1zM639 248h1v2h-1zM640 250h1v2h-1zM641 252h1v2h-1zM642 254h1v1h-1zM643 255h1v2h-1zM644 257h1v1h-1zM645 258h1v2h-1zM646 260h1v1h-1zM647 261h1v2h-1zM648 263h1v1h-1zM649 264h1v2h-1zM650 266h2v1h-2zM652 267h2v1h-2zM654 268h2v1h-2zM656 269h2v1h-2zM658 270h3v1h-3zM661 271h7v1h-7zM668 270h2v1h-2zM670 269h2v1h-2zM672 270h2v1h-2zM674 271h3v1h-3zM677 272h10v1h-10zM687 273h1v2h-1zM688 275h1v1h-1zM689 276h1v2h-1zM690 278h1v1h-1zM691 279h1v2h-1zM692 281h1v1h-1zM693 282h1v2h-1zM694 284h1v2h-1zM695 286h1v2h-1zM696 288h1v3h-1zM697 291h1v2h-1zM698 293h1v3h-1zM699 296h1v2h-1zM700 298h1v2h-1zM701 300h1v2h-1zM702 302h1v2h-1zM703 304h1v2h-1zM704 306h1v2h-1zM705 308h1v2h-1zM706 310h1v1h-1zM707 311h1v1h-1zM708 312h1v1h-1zM709 313h1v1h-1zM710 314h1v1h-1zM711 313h2v1h-2zM713 312h1v1h-1zM714 311h1v1h-1zM715 310h1v1h-1zM716 309h1v1h-1zM717 308h1v1h-1zM718 307h1v1h-1zM719 305h1v2h-1zM720 303h1v2h-1zM721 301h1v2h-1zM722 299h1v2h-1zM723 297h1v2h-1zM724 295h1v2h-1zM725 293h1v2h-1zM726 292h1v1h-1zM727 290h1v2h-1zM728 288h1v2h-1zM729 286h1v2h-1zM730 285h1v1h-1zM731 284h2v1h-2zM733 283h1v1h-1zM734 282h1v1h-1zM735 281h2v1h-2zM737 280h1v1h-1zM738 279h2v1h-2zM740 278h2v1h-2zM742 277h1v1h-1zM743 278h1v2h-1zM744 280h1v1h-1zM745 281h1v2h-1zM746 283h1v2h-1zM747 285h1v3h-1zM748 288h1v3h-1zM749 291h1v3h-1zM750 294h1v3h-1zM751 297h1v2h-1zM752 299h1v2h-1zM753 301h1v2h-1zM754 303h1v2h-1zM755 305h1v2h-1zM756 307h1v2h-1zM757 309h1v2h-1zM758 311h1v2h-1zM759 313h1v3h-1zM760 316h1v4h-1zM761 320h1v3h-1zM762 323h1v2h-1zM763 325h1v2h-1zM764 327h1v1h-1zM765 328h1v2h-1zM766 330h2v1h-2zM768 331h2v1h-2zM770 332h1v1h-1zM771 333h2v1h-2zM773 334h1v1h-1zM774 335h1v2h-1zM775 337h1v2h-1zM776 339h1v2h-1zM777 341h1v2h-1zM778 343h1v1h-1zM779 344h1v1h-1zM780 345h1v1h-1zM781 346h1v1h-1zM782 347h3v1h-3zM785 346h4v1h-4zM789 345h2v1h-2zM791 346h1v1h-1zM792 347h1v1h-1zM793 348h1v1h-1zM794 349h1v1h-1zM795 348h1v1h-1zM796 346h1v2h-1zM797 345h1v1h-1zM798 344h5v1h-5zM803 345h1v2h-1zM804 347h1v1h-1zM805 348h1v2h-1zM806 350h1v2h-1zM807 352h1v2h-1zM808 354h1v2h-1zM809 356h1v2h-1zM810 358h1v1h-1zM811 359h1v2h-1zM812 361h1v1h-1zM813 362h1v2h-1zM814 364h1v2h-1zM815 366h1v2h-1zM816 368h1v2h-1zM817 370h1v2h-1zM818 372h1v2h-1zM819 373h1v1h-1zM820 374h2v1h-2zM822 375h1v1h-1zM823 376h2v1h-2zM825 377h1v1h-1zM826 378h3v1h-3zM829 379h2v1h-2zM831 378h1v1h-1zM832 376h1v2h-1zM833 375h1v1h-1zM834 373h1v2h-1zM835 371h1v2h-1zM836 369h1v2h-1zM837 367h1v2h-1zM838 366h1v1h-1zM839 364h1v2h-1zM840 363h1v1h-1zM841 361h1v2h-1zM842 360h1v1h-1zM843 358h1v2h-1zM844 356h1v2h-1zM845 354h1v2h-1zM846 353h1v1h-1zM847 352h2v1h-2zM849 351h1v1h-1zM850 350h3v1h-3zM853 351h3v1h-3zM856 352h2v1h-2zM858 353h1v1h-1zM859 354h1v2h-1zM860 356h1v2h-1zM861 358h1v2h-1zM862 360h1v2h-1zM863 362h1v2h-1zM864 364h1v2h-1zM865 366h1v2h-1zM866 368h1v3h-1zM867 371h1v2h-1zM868 373h1v3h-1zM869 376h1v2h-1zM870 378h1v3h-1zM871 381h1v3h-1zM872 384h1v4h-1zM873 388h1v3h-1zM874 391h1v3h-1zM875 394h1v3h-1zM876 397h1v4h-1zM877 401h1v3h-1zM878 404h1v2h-1zM879 406h1v2h-1zM880 408h1v1h-1zM881 409h1v2h-1zM882 411h1v1h-1zM883 412h1v1h-1zM884 413h1v1h-1zM885 414h1v1h-1zM886 415h3v1h-3zM889 414h3v1h-3zM892 413h2v1h-2zM894 412h1v1h-1zM895 411h2v1h-2zM897 410h1v1h-1zM898 409h1v1h-1zM899 410h2v1h-2zM901 411h1v1h-1zM902 412h1v1h-1zM903 413h1v1h-1zM904 414h1v2h-1zM905 416h1v1h-1zM906 417h1v2h-1zM907 419h1v2h-1zM908 421h1v2h-1zM909 423h1v2h-1zM910 425h1v1h-1zM911 426h1v2h-1zM912 428h1v1h-1zM913 429h1v2h-1zM914 431h1v1h-1zM915 432h1v1h-1zM916 433h1v1h-1zM917 434h1v1h-1zM918 435h1v1h-1zM919 436h1v1h-1zM920 437h1v2h-1zM921 439h1v1h-1zM922 440h1v1h-1zM923 441h2v1h-2zM925 442h1v1h-1zM926 443h1v1h-1zM927 442h1v1h-1zM928 441h1v1h-1zM929 440h1v1h-1zM930 439h1v1h-1zM931 438h1v1h-1zM932 437h1v1h-1zM933 436h1v1h-1zM934 435h7v1h-7zM941 434h3v1h-3zM944 433h2v1h-2zM946 432h2v1h-2zM948 433h2v1h-2zM950 434h3v1h-3zM953 435h3v1h-3zM956 436h2v1h-2zM958 437h3v1h-3zM961 438h2v1h-2zM963 439h1v1h-1zM964 440h1v2h-1zM965 442h1v1h-1zM966 443h1v1h-1zM967 444h1v2h-1zM968 446h1v2h-1zM969 448h1v2h-1zM970 450h1v2h-1zM971 452h1v2h-1zM972 454h1v2h-1zM973 456h1v2h-1zM974 458h1v1h-1zM975 459h1v1h-1zM976 460h1v2h-1zM977 462h1v1h-1zM978 463h1v1h-1zM979 464h1v1h-1zM980 465h1v2h-1zM981 467h1v1h-1zM982 468h3v1h-3zM985 469h2v1h-2zM987 468h1v1h-1zM988 467h1v1h-1zM989 466h1v1h-1zM990 465h1v1h-1zM991 464h2v1h-2zM993 463h1v1h-1zM994 462h2v1h-2zM996 461h2v1h-2zM998 460h2v1h-2zM1000 459h2v1h-2zM1002 458h5v1h-5zM1007 459h1v1h-1zM1008 460h1v1h-1zM1009 461h1v1h-1zM1010 462h2v1h-2zM1012 463h2v1h-2zM1014 464h2v1h-2zM1016 465h2v1h-2zM1018 466h2v1h-2zM1020 467h2v1h-2zM1022 468h3v1h-3zM1025 467h2v1h-2zM1027 466h1v1h-1zM1028 465h1v1h-1zM1029 464h1v1h-1zM1030 463h2v1h-2zM1032 462h2v1h-2zM1034 461h3v1h-3zM1037 462h10v1h-10zM1047 463h2v1h-2zM1049 464h1v1h-1zM1050 465h1v1h-1zM1051 466h2v1h-2zM1053 467h1v1h-1zM1054 468h1v1h-1zM1055 469h2v1h-2zM1057 470h1v1h-1zM1058 471h2v1h-2zM1060 472h2v1h-2zM1062 473h1v1h-1zM1063 474h1v1h-1zM1064 475h1v1h-1zM1065 476h1v1h-1zM1066 477h1v2h-1zM1067 479h1v2h-1zM1068 481h1v2h-1zM1069 483h1v2h-1zM1070 485h1v2h-1zM1071 487h1v2h-1zM1072 489h1v2h-1zM1073 491h1v2h-1zM1074 493h1v1h-1zM1075 494h1v1h-1zM1076 495h1v2h-1zM1077 497h1v1h-1zM1078 498h1v1h-1zM1079 499h1v1h-1zM1080 500h1v1h-1zM1081 501h1v1h-1zM1082 502h1v1h-1zM1083 503h1v1h-1zM1084 504h1v2h-1zM1085 506h1v1h-1zM1086 507h2v1h-2zM1088 506h2v1h-2zM1090 505h1v1h-1zM1091 504h1v1h-1zM1092 502h1v2h-1zM1093 501h1v1h-1zM1094 500h7v1h-7zM1101 501h3v1h-3zM1104 500h2v1h-2zM1106 499h2v1h-2zM1108 498h2v1h-2zM1110 497h3v1h-3zM1113 496h2v1h-2zM1115 495h1v1h-1zM1116 493h1v2h-1zM1117 492h1v1h-1zM1118 491h3v1h-3zM1121 490h4v1h-4zM1125 491h3v1h-3zM1128 492h2v1h-2zM1130 493h3v1h-3zM1133 492h7v1h-7zM1140 491h2v1h-2zM1142 490h3v1h-3zM1145 489h2v1h-2zM1147 488h2v1h-2zM1149 487h1v1h-1zM1150 486h2v1h-2zM1152 487h2v1h-2zM1154 488h1v1h-1zM1155 489h1v2h-1zM1156 491h1v2h-1zM1157 493h1v2h-1zM1158 495h1v1h-1zM1159 496h1v1h-1zM1160 497h1v2h-1zM1161 499h1v1h-1zM1162 500h3v1h-3zM1165 499h2v1h-2zM1167 500h1v1h-1zM1168 501h1v1h-1zM1169 502h1v1h-1zM1170 503h3v1h-3zM1173 504h2v1h-2zM1175 503h1v1h-1zM1176 502h1v1h-1zM1177 501h1v1h-1zM1178 500h3v1h-3zM1181 499h3v1h-3zM1184 500h2v1h-2zM1186 501h1v1h-1zM1187 502h2v1h-2zM1189 503h1v1h-1zM1190 504h1v1h-1zM1191 505h1v1h-1zM1192 506h1v2h-1zM1193 508h1v1h-1zM1194 509h1v1h-1zM1195 510h1v2h-1zM1196 512h1v1h-1zM1197 513h1v2h-1zM1198 515h1v1h-1zM1199 516h1v1h-1zM1200 517h1v2h-1zM1201 519h1v1h-1zM1202 520h1v1h-1zM1203 521h1v1h-1zM1204 522h1v2h-1zM1205 524h1v1h-1zM1206 525h2v1h-2zM1208 526h2v1h-2zM1210 527h2v1h-2zM1212 528h2v1h-2zM1214 529h3v1h-3zM1217 530h2v1h-2zM1219 529h1v1h-1zM1220 528h1v1h-1zM1221 527h1v1h-1zM1222 526h1v1h-1zM1223 524h1v2h-1zM1224 523h1v1h-1zM1225 521h1v2h-1zM1226 520h1v1h-1zM1227 519h1v1h-1zM1228 518h1v1h-1zM1229 517h1v1h-1zM1230 516h1v1h-1zM1231 514h1v2h-1zM1232 512h1v2h-1zM1233 510h1v2h-1zM1234 509h1v1h-1zM1235 507h1v2h-1zM1236 505h1v2h-1zM1237 503h1v2h-1zM1238 502h3v1h-3zM1241 501h3v1h-3zM1244 502h2v1h-2zM1246 503h3v1h-3zM1249 502h3v1h-3zM1252 501h2v1h-2zM1254 500h1v1h-1z"/>
<path fill="#1e90ff" d="M2 592h1v2h-1zM3 594h1v3h-1zM4 597h1v2h-1zM5 599h1v3h-1zM6 602h1v2h-1zM7 604h1v1h-1zM8 605h1v1h-1zM9 606h1v1h-1zM10 607h3v1h-3zM13 608h2v1h-2zM15 609h1v1h-1zM16 610h1v2h-1zM17 612h1v1h-1zM18 613h1v1h-1zM19 614h1v1h-1zM20 615h1v1h-1zM21 616h1v1h-1zM22 617h1v1h-1zM23 618h2v1h-2zM25 619h1v1h-1zM26 620h1v1h-1zM27 618h1v2h-1zM28 617h1v1h-1zM29 615h1v2h-1zM30 614h3v1h-3zM33 615h6v1h-6zM39 614h1v1h-1zM40 612h1v2h-1zM41 611h1v1h-1zM42 610h1v1h-1zM43 609h1v1h-1zM44 608h1v1h-1zM45 607h1v1h-1zM46 606h2v1h-2zM48 607h3v1h-3zM50 606h1v1h-1zM50 608h1v1h-1zM51 602h1v4h-1zM52 598h1v4h-1zM53 594h1v4h-1zM54 591h1v3h-1zM55 592h1v1h-1zM56 593h1v1h-1zM57 594h1v1h-1zM58 595h3v1h-3zM61 594h2v1h-2zM62 595h1v1h-1zM63 596h1v2h-1zM64 598h1v2h-1zM65 600h1v2h-1zM66 602h1v1h-1zM67 600h1v2h-1zM68 599h1v1h-1zM69 597h1v2h-1zM70 596h1v1h-1zM71 594h1v2h-1zM72 592h1v2h-1zM73 590h1v2h-1zM74 589h1v1h-1zM75 587h1v2h-1zM76 586h1v1h-1zM77 584h1v2h-1zM78 583h1v1h-1zM79 584h1v1h-1zM80 585h1v1h-1zM81 586h1v1h-1zM82 587h3v1h-3zM85 586h3v1h-3zM88 587h2v1h-2zM90 588h1v2h-1zM91 590h1v2h-1zM92 592h1v2h-1zM93 594h1v2h-1zM94 596h1v1h-1zM95 594h1v2h-1zM96 593h1v1h-1zM97 591h1v2h-1zM98 590h1v2h-1zM99 592h1v2h-1zM100 594h1v2h-1zM101 596h1v2h-1zM102 598h2v1h-2zM104 597h2v1h-2zM106 596h1v1h-1zM107 597h2v1h-2zM109 598h1v1h-1zM110 599h1v1h-1zM111 598h1v1h-1zM112 597h1v1h-1zM113 596h1v1h-1zM114 595h1v1h-1zM115 596h1v1h-1zM116 597h1v2h-1zM117 599h1v1h-1zM118 600h1v1h-1zM119 599h2v1h-2zM121 598h1v1h-1zM122 597h1v1h-1zM123 598h1v1h-1zM124 599h1v1h-1zM125 600h1v1h-1zM126 601h1v1h-1zM127 600h1v1h-1zM128 599h1v1h-1zM129 598h1v1h-1zM130 597h2v1h-2zM132 598h2v1h-2zM134 599h3v1h-3zM137 600h2v1h-2zM139 601h1v2h-1zM140 603h1v1h-1zM141 604h1v2h-1zM142 606h1v1h-1zM143 605h2v1h-2zM145 604h1v1h-1zM146 603h1v1h-1zM147 604h2v1h-2zM149 605h1v1h-1zM150 606h3v1h-3zM153 607h7v1h-7zM160 606h2v1h-2zM162 605h3v1h-3zM165 606h2v1h-2zM167 605h1v1h-1zM168 604h1v1h-1zM169 603h1v1h-1zM170 602h2v1h-2zM172 601h2v1h-2zM174 600h2v1h-2zM176 601h2v1h-2zM178 602h7v1h-7zM185 601h2v1h-2zM187 600h1v1h-1zM188 599h1v1h-1zM189 598h1v1h-1zM190 597h3v1h-3zM193 598h2v1h-2zM195 599h1v1h-1zM196 600h1v1h-1zM197 601h1v1h-1zM198 602h1v1h-1zM199 601h2v1h-2zM201 600h1v1h-1zM202 599h3v1h-3zM205 600h7v1h-7zM212 601h2v1h-2zM214 602h3v1h-3zM217 603h3v1h-3zM220 604h3v1h-3zM222 605h1v1h-1zM223 601h1v3h-1zM224 597h1v4h-1zM225 594h1v3h-1zM226 592h1v2h-1zM227 592h5v1h-5zM232 593h2v1h-2zM234 594h1v1h-1zM235 595h2v1h-2zM237 596h1v1h-1zM238 597h2v1h-2zM240 596h3v1h-3zM242 595h1v1h-1zM243 597h1v2h-1zM244 599h1v2h-1zM245 601h1v2h-1zM246 603h2v1h-2zM248 604h2v1h-2zM250 605h2v1h-2zM252 604h2v1h-2zM254 603h1v1h-1zM255 602h2v1h-2zM257 601h1v1h-1zM258 600h1v1h-1zM259 601h2v1h-2zM261 602h1v1h-1zM262 603h1v1h-1zM263 602h2v1h-2zM265 601h1v1h-1zM266 600h2v1h-2zM268 599h2v1h-2zM270 598h1v1h-1zM271 597h2v1h-2zM273 596h1v1h-1zM274 595h3v1h-3zM277 596h2v1h-2zM279 597h2v1h-2zM281 598h1v1h-1zM282 599h1v1h-1zM283 600h2v1h-2zM285 601h1v1h-1zM286 602h3v1h-3zM289 603h2v1h-2zM291 602h1v1h-1zM292 600h1v2h-1zM293 599h1v1h-1zM294 598h1v1h-1zM295 597h1v1h-1zM296 595h1v2h-1zM297 594h1v1h-1zM298 593h3v1h-3zM301 594h8v1h-8zM309 595h2v1h-2zM310 594h1v1h-1zM311 592h1v2h-1zM312 590h1v2h-1zM313 588h1v2h-1zM314 586h1v2h-1zM315 588h1v2h-1zM316 590h1v3h-1zM317 593h1v2h-1zM318 595h1v2h-1zM319 596h2v1h-2zM321 595h3v1h-3zM324 596h2v1h-2zM326 597h1v1h-1zM327 598h1v1h-1zM328 599h1v2h-1zM329 601h1v1h-1zM330 602h1v1h-1zM331 603h1v1h-1zM332 604h1v2h-1zM333 606h1v1h-1zM334 607h3v1h-3zM337 606h4v1h-4zM341 607h2v1h-2zM342 608h1v1h-1zM343 609h1v2h-1zM344 611h1v2h-1zM345 613h1v2h-1zM346 615h3v1h-3zM349 614h3v1h-3zM352 615h2v1h-2zM354 616h1v1h-1zM355 615h1v1h-1zM356 613h1v2h-1zM357 612h1v1h-1zM358 611h1v1h-1zM359 612h1v1h-1zM360 613h1v2h-1zM361 615h1v1h-1zM362 616h1v1h-1zM363 615h1v1h-1zM364 613h1v2h-1zM365 612h1v1h-1zM366 611h2v1h-2zM368 610h2v1h-2zM370 609h3v1h-3zM373 608h8v1h-8zM381 607h4v1h-4zM385 608h4v1h-4zM389 607h2v1h-2zM391 608h2v1h-2zM393 609h1v1h-1zM394 610h3v1h-3zM397 609h2v1h-2zM399 610h1v1h-1zM400 611h1v2h-1zM401 613h1v1h-1zM402 614h3v1h-3zM405 615h2v1h-2zM407 614h1v1h-1zM408 612h1v2h-1zM409 611h1v1h-1zM410 610h1v1h-1zM411 609h1v1h-1zM412 607h1v2h-1zM413 606h1v1h-1zM414 605h2v1h-2zM416 604h2v1h-2zM418 603h5v1h-5zM423 604h1v1h-1zM424 605h1v1h-1zM425 606h1v1h-1zM426 607h2v1h-2zM428 608h2v1h-2zM430 609h3v1h-3zM433 610h3v1h-3zM436 609h2v1h-2zM438 608h2v1h-2zM440 609h2v1h-2zM442 610h2v1h-2zM444 609h3v1h-3zM446 608h1v1h-1zM447 610h1v3h-1zM448 613h1v4h-1zM449 617h1v3h-1zM450 620h1v2h-1zM451 621h4v1h-4zM455 622h2v1h-2zM457 623h1v1h-1zM458 624h3v1h-3zM461 625h2v1h-2zM463 623h1v2h-1zM464 621h1v2h-1zM465 619h1v2h-1zM466 618h3v1h-3zM469 617h2v1h-2zM471 618h1v1h-1zM472 619h1v1h-1zM473 620h1v1h-1zM474 621h1v1h-1zM475 619h1v2h-1zM476 618h1v1h-1zM477 616h1v2h-1zM478 615h1v1h-1zM479 616h1v1h-1zM480 617h1v2h-1zM481 619h1v1h-1zM482 620h3v1h-3zM485 619h3v1h-3zM488 618h2v1h-2zM490 617h3v1h-3zM493 618h7v1h-7zM500 619h3v1h-3zM502 620h1v1h-1zM503 616h1v3h-1zM504 614h1v2h-1zM505 611h1v3h-1zM506 609h1v2h-1zM507 609h1v1h-1zM508 610h3v1h-3zM510 611h1v1h-1zM511 608h1v2h-1zM512 606h1v2h-1zM513 604h1v2h-1zM514 602h1v2h-1zM515 603h2v1h-2zM517 604h1v1h-1zM518 605h1v1h-1zM519 606h1v1h-1zM520 607h1v1h-1zM521 608h1v1h-1zM522 609h7v1h-7zM529 610h2v1h-2zM531 609h1v1h-1zM532 607h1v2h-1zM533 606h2v1h-2zM534 605h1v1h-1zM535 607h1v2h-1zM536 609h1v2h-1zM537 611h1v2h-1zM538 613h2v1h-2zM540 612h2v1h-2zM542 611h3v1h-3zM545 612h4v1h-4zM549 613h2v1h-2zM550 614h1v1h-1zM551 615h1v2h-1zM552 617h1v2h-1zM553 619h1v2h-1zM554 621h1v2h-1zM555 621h1v1h-1zM556 619h1v2h-1zM557 618h1v1h-1zM558 617h1v1h-1zM559 615h1v2h-1zM560 613h1v2h-1zM561 611h1v2h-1zM562 610h3v1h-3zM565 611h3v1h-3zM568 612h2v1h-2zM570 613h1v1h-1zM571 614h2v1h-2zM573 615h1v1h-1zM574 616h2v1h-2zM576 617h2v1h-2zM578 618h1v1h-1zM579 617h1v1h-1zM580 615h1v2h-1zM581 614h1v1h-1zM582 613h3v1h-3zM585 614h4v1h-4zM589 613h2v1h-2zM591 614h2v1h-2zM593 615h1v1h-1zM594 616h1v1h-1zM595 617h1v1h-1zM596 618h1v1h-1zM597 619h1v1h-1zM598 620h3v1h-3zM601 619h4v1h-4zM605 620h2v1h-2zM607 619h1v1h-1zM608 617h1v2h-1zM609 616h1v1h-1zM610 615h3v1h-3zM613 614h2v1h-2zM615 615h2v1h-2zM617 616h1v1h-1zM618 617h3v1h-3zM621 618h2v1h-2zM623 619h1v1h-1zM624 620h1v1h-1zM625 621h1v1h-1zM626 622h3v1h-3zM629 623h2v1h-2zM631 624h2v1h-2zM633 625h1v1h-1zM634 626h6v1h-6zM640 627h2v1h-2zM642 628h1v1h-1zM643 629h2v1h-2zM645 630h1v1h-1zM646 631h1v1h-1zM647 630h2v1h-2zM649 629h1v1h-1zM650 628h1v1h-1zM651 626h1v2h-1zM652 625h1v1h-1zM653 623h1v2h-1zM654 622h3v1h-3zM657 623h4v1h-4zM661 624h4v1h-4zM665 625h2v1h-2zM666 624h1v1h-1zM667 622h1v2h-1zM668 619h1v3h-1zM669 617h1v2h-1zM670 615h1v2h-1zM671 616h1v1h-1zM672 617h1v1h-1zM673 618h1v1h-1zM674 619h3v1h-3zM677 620h2v1h-2zM679 619h2v1h-2zM681 618h1v1h-1zM682 617h3v1h-3zM685 618h2v1h-2zM687 619h1v2h-1zM688 621h1v1h-1zM689 622h1v2h-1zM690 624h1v1h-1zM691 625h1v1h-1zM692 626h1v1h-1zM693 627h1v1h-1zM694 628h1v1h-1zM695 629h2v1h-2zM697 630h1v1h-1zM698 631h1v1h-1zM699 630h1v1h-1zM700 628h1v2h-1zM701 627h1v1h-1zM702 626h1v1h-1zM703 625h2v1h-2zM705 624h1v1h-1zM706 623h2v1h-2zM708 622h2v1h-2zM710 620h1v2h-1zM711 618h1v2h-1zM712 616h1v2h-1zM713 614h1v2h-1zM714 612h1v2h-1zM715 613h1v1h-1zM716 614h1v1h-1zM717 615h2v1h-2zM718 616h1v1h-1zM719 613h1v2h-1zM720 610h1v3h-1zM721 608h1v2h-1zM722 606h1v2h-1zM723 605h2v1h-2zM725 604h1v1h-1zM726 603h7v1h-7zM733 604h2v1h-2zM735 605h1v1h-1zM736 606h1v1h-1zM737 607h1v1h-1zM738 608h1v1h-1zM739 607h1v1h-1zM740 606h1v1h-1zM741 605h2v1h-2zM742 604h1v1h-1zM743 606h1v2h-1zM744 608h1v2h-1zM745 610h1v2h-1zM746 612h1v1h-1zM747 613h1v2h-1zM748 615h1v1h-1zM749 616h1v2h-1zM750 618h1v1h-1zM751 617h2v1h-2zM753 616h1v1h-1zM754 615h3v1h-3zM757 616h2v1h-2zM759 617h1v1h-1zM760 618h1v1h-1zM761 619h1v1h-1zM762 620h1v1h-1zM763 619h1v1h-1zM764 618h1v1h-1zM765 617h1v1h-1zM766 616h3v1h-3zM769 617h2v1h-2zM771 616h2v1h-2zM773 615h1v1h-1zM774 614h1v1h-1zM775 615h1v2h-1zM776 617h1v2h-1zM777 619h1v2h-1zM778 621h3v1h-3zM781 620h2v1h-2zM782 619h1v1h-1zM783 616h1v3h-1zM784 614h1v2h-1zM785 611h1v3h-1zM786 609h1v2h-1zM787 609h4v1h-4zM791 610h1v1h-1zM792 611h1v2h-1zM793 613h1v1h-1zM794 614h2v1h-2zM796 613h2v1h-2zM798 612h1v1h-1zM799 613h2v1h-2zM801 614h1v1h-1zM802 615h3v1h-3zM805 614h2v1h-2zM807 615h2v1h-2zM809 616h1v1h-1zM810 617h2v1h-2zM812 618h2v1h-2zM814 619h2v1h-2zM816 620h3v1h-3zM818 621h1v1h-1zM819 618h1v2h-1zM820 616h1v2h-1zM821 614h1v2h-1zM822 613h3v1h-3zM825 614h6v1h-6zM831 612h1v2h-1zM832 610h1v2h-1zM833 608h1v2h-1zM834 607h3v1h-3zM837 606h2v1h-2zM839 605h1v1h-1zM840 604h1v1h-1zM841 603h1v1h-1zM842 602h2v1h-2zM844 603h2v1h-2zM846 604h1v1h-1zM847 605h1v1h-1zM848 606h1v1h-1zM849 607h1v1h-1zM850 608h3v1h-3zM853 609h7v1h-7zM860 610h2v1h-2zM862 611h1v1h-1zM863 612h1v2h-1zM864 614h1v1h-1zM865 615h1v2h-1zM866 617h1v1h-1zM867 618h1v1h-1zM868 619h1v1h-1zM869 620h1v1h-1zM870 621h2v1h-2zM872 622h2v1h-2zM874 623h3v1h-3zM877 624h2v1h-2zM878 623h1v1h-1zM879 620h1v3h-1zM880 618h1v2h-1zM881 615h1v3h-1zM882 613h1v2h-1zM883 614h2v1h-2zM885 615h1v1h-1zM886 616h1v1h-1zM887 615h2v1h-2zM889 614h1v1h-1zM890 613h2v1h-2zM892 614h2v1h-2zM894 615h2v1h-2zM896 614h2v1h-2zM898 613h2v1h-2zM900 614h2v1h-2zM902 615h1v1h-1zM903 616h1v1h-1zM904 617h1v1h-1zM905 618h1v1h-1zM906 619h2v1h-2zM908 620h2v1h-2zM910 621h3v1h-3zM913 620h2v1h-2zM915 619h1v1h-1zM916 617h1v2h-1zM917 616h1v1h-1zM918 615h1v1h-1zM919 616h2v1h-2zM921 617h1v1h-1zM922 618h5v1h-5zM926 617h1v1h-1zM927 615h1v2h-1zM928 613h1v2h-1zM929 611h1v2h-1zM930 610h6v1h-6zM936 611h2v1h-2zM938 612h2v1h-2zM940 613h2v1h-2zM942 614h2v1h-2zM944 613h2v1h-2zM946 612h6v1h-6zM952 611h2v1h-2zM954 610h1v1h-1zM955 611h1v1h-1zM956 612h1v1h-1zM957 613h1v1h-1zM958 614h3v1h-3zM961 615h2v1h-2zM963 616h2v1h-2zM965 617h1v1h-1zM966 618h1v1h-1zM967 619h2v1h-2zM969 620h1v1h-1zM970 621h3v1h-3zM973 622h2v1h-2zM975 621h2v1h-2zM977 620h1v1h-1zM978 619h5v1h-5zM983 618h2v1h-2zM985 617h1v1h-1zM986 616h1v1h-1zM987 614h1v2h-1zM988 613h1v1h-1zM989 611h1v2h-1zM990 610h2v1h-2zM992 611h2v1h-2zM994 612h9v1h-9zM1003 613h2v1h-2zM1005 614h1v1h-1zM1006 615h1v1h-1zM1007 616h2v1h-2zM1009 617h1v1h-1zM1010 618h1v1h-1zM1011 617h2v1h-2zM1013 616h1v1h-1zM1014 615h3v1h-3zM1017 614h4v1h-4zM1021 615h2v1h-2zM1022 614h1v1h-1zM1023 612h1v2h-1zM1024 610h1v2h-1zM1025 608h1v2h-1zM1026 607h2v1h-2zM1028 606h2v1h-2zM1030 605h1v1h-1zM1031 606h1v1h-1zM1032 607h1v1h-1zM1033 608h1v1h-1zM1034 609h1v1h-1zM1035 610h1v1h-1zM1036 611h1v1h-1zM1037 612h1v1h-1zM1038 613h3v1h-3zM1041 612h2v1h-2zM1043 610h1v2h-1zM1044 608h1v2h-1zM1045 606h1v2h-1zM1046 605h1v1h-1zM1047 606h1v1h-1zM1048 607h1v2h-1zM1049 609h1v1h-1zM1050 610h1v1h-1zM1051 611h1v1h-1zM1052 612h1v1h-1zM1053 613h1v1h-1zM1054 614h2v1h-2zM1056 615h2v1h-2zM1058 616h2v1h-2zM1060 615h2v1h-2zM1062 614h5v1h-5zM1066 615h1v1h-1zM1067 616h1v2h-1zM1068 618h1v3h-1zM1069 621h1v2h-1zM1070 623h1v2h-1zM1071 624h1v1h-1zM1072 625h2v1h-2zM1074 626h1v1h-1zM1075 624h1v2h-1zM1076 623h1v1h-1zM1077 621h1v2h-1zM1078 620h1v1h-1zM1079 618h1v2h-1zM1080 617h1v1h-1zM1081 615h1v2h-1zM1082 614h1v1h-1zM1083 615h2v1h-2zM1085 616h1v1h-1zM1086 617h1v1h-1zM1087 616h1v1h-1zM1088 615h1v1h-1zM1089 614h1v1h-1zM1090 613h1v1h-1zM1091 612h2v1h-2zM1093 611h1v1h-1zM1094 610h1v1h-1zM1095 611h1v1h-1zM1096 612h1v1h-1zM1097 613h1v1h-1zM1098 614h3v1h-3zM1101 613h2v1h-2zM1103 612h2v1h-2zM1105 611h1v1h-1zM1106 610h1v1h-1zM1107 609h1v1h-1zM1108 608h1v1h-1zM1109 607h1v1h-1zM1110 606h5v1h-5zM1115 605h1v1h-1zM1116 604h1v1h-1zM1117 603h1v1h-1zM1118 602h1v1h-1zM1119 603h1v2h-1zM1120 605h1v1h-1zM1121 606h1v2h-1zM1122 608h1v1h-1zM1123 609h1v1h-1zM1124 610h1v1h-1zM1125 611h1v1h-1zM1126 612h2v1h-2zM1128 611h2v1h-2zM1130 610h1v1h-1zM1131 608h1v2h-1zM1132 606h1v2h-1zM1133 604h1v2h-1zM1134 603h2v1h-2zM1136 602h2v1h-2zM1138 601h1v1h-1zM1139 602h2v1h-2zM1141 603h1v1h-1zM1142 604h1v1h-1zM1143 605h1v1h-1zM1144 606h1v1h-1zM1145 607h1v1h-1zM1146 608h1v1h-1zM1147 606h1v2h-1zM1148 605h1v1h-1zM1149 603h1v2h-1zM1150 602h1v1h-1zM1151 603h1v1h-1zM1152 604h1v2h-1zM1153 606h1v1h-1zM1154 607h1v1h-1zM1155 608h1v2h-1zM1156 610h1v2h-1zM1157 612h1v2h-1zM1158 614h1v1h-1zM1159 613h2v1h-2zM1161 612h1v1h-1zM1162 611h1v1h-1zM1163 609h1v2h-1zM1164 607h1v2h-1zM1165 605h1v2h-1zM1166 604h1v1h-1zM1167 605h1v1h-1zM1168 606h1v1h-1zM1169 607h1v1h-1zM1170 608h3v1h-3zM1173 607h2v1h-2zM1175 606h2v1h-2zM1177 605h1v1h-1zM1178 604h1v1h-1zM1179 605h1v1h-1zM1180 606h1v1h-1zM1181 607h1v1h-1zM1182 608h5v1h-5zM1187 609h1v1h-1zM1188 610h1v1h-1zM1189 611h1v1h-1zM1190 612h1v1h-1zM1191 613h1v1h-1zM1192 614h1v1h-1zM1193 615h1v1h-1zM1194 616h1v1h-1zM1195 615h2v1h-2zM1197 614h1v1h-1zM1198 613h2v1h-2zM1200 614h2v1h-2zM1202 615h3v1h-3zM1205 614h6v1h-6zM1211 615h2v1h-2zM1213 616h1v1h-1zM1214 617h1v1h-1zM1215 615h1v2h-1zM1216 614h1v1h-1zM1217 612h1v2h-1zM1218 611h1v1h-1zM1219 609h1v2h-1zM1220 608h1v1h-1zM1221 606h1v2h-1zM1222 605h1v1h-1zM1223 603h1v2h-1zM1224 602h1v1h-1zM1225 600h1v2h-1zM1226 599h1v1h-1zM1227 600h1v1h-1zM1228 601h1v1h-1zM1229 602h1v1h-1zM1230 603h2v1h-2zM1232 602h2v1h-2zM1234 601h2v1h-2zM1236 600h2v1h-2zM1238 599h1v1h-1zM1239 600h1v1h-1zM1240 601h1v1h-1zM1241 602h1v1h-1zM1242 603h7v1h-7zM1249 602h2v1h-2zM1251 601h1v1h-1zM1252 600h1v1h-1zM1253 599h1v1h-1zM1254 598h1v1h-1z"/>
<g fill="#c0c0c0">
<rect x="2" y="685" width="1" height="17"/>
<rect x="6" y="687" width="1" height="15"/>
<rect x="10" y="690" width="1" height="12"/>
<rect x="14" y="693" width="1" height="9"/>
<rect x="18" y="697" width="1" height="5"/>
<rect x="22" y="702" width="1" height="1"/>
<rect x="26" y="702" width="1" height="7"/>
<rect x="30" y="702" width="1" height="10"/>
<rect x="34" y="702" width="1" height="13"/>
<rect x="38" y="702" width="1" height="15"/>
<rect x="42" y="702" width="1" height="14"/>
<rect x="46" y="702" width="1" height="13"/>
<rect x="50" y="702" width="1" height="12"/>
<rect x="54" y="702" width="1" height="4"/>
<rect x="58" y="701" width="1" height="1"/>
<rect x="62" y="696" width="1" height="6"/>
<rect x="66" y="696" width="1" height="6"/>
<rect x="70" y="693" width="1" height="9"/>
<rect x="74" y="686" width="1" height="16"/>
<rect x="78" y="674" width="1" height="28"/>
<rect x="82" y="667" width="1" height="35"/>
<rect x="86" y="662" width="1" height="40"/>
<rect x="90" y="659" width="1" height="43"/>
<rect x="94" y="661" width="1" height="41"/>
<rect x="98" y="658" width="1" height="44"/>
<rect x="102" y="661" width="1" height="41"/>
<rect x="106" y="662" width="1" height="40"/>
<rect x="110" y="665" width="1" height="37"/>
<rect x="114" y="664" width="1" height="38"/>
<rect x="118" y="668" width="1" height="34"/>
<rect x="122" y="668" width="1" height="34"/>
<rect x="126" y="671" width="1" height="31"/>
<rect x="130" y="671" width="1" height="31"/>
<rect x="134" y="673" width="1" height="29"/>
<rect x="138" y="675" width="1" height="27"/>
<rect x="142" y="681" width="1" height="21"/>
<rect x="146" y="684" width="1" height="18"/>
<rect x="150" y="689" width="1" height="13"/>
<rect x="154" y="693" width="1" height="9"/>
<rect x="158" y="697" width="1" height="5"/>
<rect x="162" y="699" width="1" height="3"/>
<rect x="166" y="701" width="1" height="1"/>
<rect x="170" y="700" width="1" height="2"/>
<rect x="174" y="699" width="1" height="3"/>
<rect x="178" y="698" width="1" height="4"/>
<rect x="182" y="698" width="1" height="4"/>
<rect x="186" y="698" width="1" height="4"/>
<rect x="190" y="695" width="1" height="7"/>
<rect x="194" y="694" width="1" height="8"/>
<rect x="198" y="694" width="1" height="8"/>
<rect x="202" y="694" width="1" height="8"/>
<rect x="206" y="693" width="1" height="9"/>
<rect x="210" y="693" width="1" height="9"/>
<rect x="214" y="694" width="1" height="8"/>
<rect x="218" y="695" width="1" height="7"/>
<rect x="222" y="697" width="1" height="5"/>
<rect x="226" y="693" width="1" height="9"/>
<rect x="230" y="689" width="1" height="13"/>
<rect x="234" y="687" width="1" height="15"/>
<rect x="238" y="687" width="1" height="15"/>
<rect x="242" y="686" width="1" height="16"/>
<rect x="246" y="689" width="1" height="13"/>
<rect x="250" y="691" width="1" height="11"/>
<rect x="254" y="693" width="1" height="9"/>
<rect x="258" y="693" width="1" height="9"/>
<rect x="262" y="694" width="1" height="8"/>
<rect x="266" y="694" width="1" height="8"/>
<rect x="270" y="693" width="1" height="9"/>
<rect x="274" y="691" width="1" height="11"/>
<rect x="278" y="690" width="1" height="12"/>
<rect x="282" y="691" width="1" height="11"/>
<rect x="286" y="692" width="1" height="10"/>
<rect x="290" y="693" width="1" height="9"/>
<rect x="294" y="693" width="1" height="9"/>
<rect x="298" y="690" width="1" height="12"/>
<rect x="302" y="689" width="1" height="13"/>
<rect x="306" y="688" width="1" height="14"/>
<rect x="310" y="688" width="1" height="14"/>
<rect x="314" y="683" width="1" height="19"/>
<rect x="318" y="683" width="1" height="19"/>
<rect x="322" y="682" width="1" height="20"/>
<rect x="326" y="683" width="1" height="19"/>
<rect x="330" y="685" width="1" height="17"/>
<rect x="334" y="690" width="1" height="12"/>
<rect x="338" y="693" width="1" height="9"/>
<rect x="342" y="695" width="1" height="7"/>
<rect x="346" y="702" width="1" height="1"/>
<rect x="350" y="702" width="1" height="4"/>
<rect x="354" y="702" width="1" height="9"/>
<rect x="358" y="702" width="1" height="11"/>
<rect x="362" y="702" width="1" height="14"/>
<rect x="366" y="702" width="1" height="15"/>
<rect x="370" y="702" width="1" height="15"/>
<rect x="374" y="702" width="1" height="15"/>
<rect x="378" y="702" width="1" height="14"/>
<rect x="382" y="702" width="1" height="13"/>
<rect x="386" y="702" width="1" height="13"/>
<rect x="390" y="702" width="1" height="12"/>
<rect x="394" y="702" width="1" height="12"/>
<rect x="398" y="702" width="1" height="12"/>
<rect x="402" y="702" width="1" height="13"/>
<rect x="406" y="702" width="1" height="15"/>
<rect x="410" y="702" width="1" height="14"/>
<rect x="414" y="702" width="1" height="12"/>
<rect x="418" y="702" width="1" height="10"/>
<rect x="422" y="702" width="1" height="9"/>
<rect x="426" y="702" width="1" height="8"/>
<rect x="430" y="702" width="1" height="8"/>
<rect x="434" y="702" width="1" height="9"/>
<rect x="438" y="702" width="1" height="9"/>
<rect x="442" y="702" width="1" height="9"/>
<rect x="446" y="702" width="1" height="8"/>
<rect x="450" y="702" width="1" height="13"/>
<rect x="454" y="702" width="1" height="16"/>
<rect x="458" y="702" width="1" height="20"/>
<rect x="462" y="702" width="1" height="24"/>
<rect x="466" y="702" width="1" height="25"/>
<rect x="470" y="702" width="1" height="25"/>
<rect x="474" y="702" width="1" height="26"/>
<rect x="478" y="702" width="1" height="26"/>
<rect x="482" y="702" width="1" height="27"/>
<rect x="486" y="702" width="1" height="28"/>
<rect x="490" y="702" width="1" height="28"/>
<rect x="494" y="702" width="1" height="27"/>
<rect x="498" y="702" width="1" height="27"/>
<rect x="502" y="702" width="1" height="27"/>
<rect x="506" y="702" width="1" height="25"/>
<rect x="510" y="702" width="1" height="23"/>
<rect x="514" y="702" width="1" height="19"/>
<rect x="518" y="702" width="1" height="16"/>
<rect x="522" y="702" width="1" height="16"/>
<rect x="526" y="702" width="1" height="15"/>
<rect x="530" y="702" width="1" height="14"/>
<rect x="534" y="702" width="1" height="12"/>
<rect x="538" y="702" width="1" height="14"/>
<rect x="542" y="702" width="1" height="14"/>
<rect x="546" y="702" width="1" height="14"/>
<rect x="550" y="702" width="1" height="15"/>
<rect x="554" y="702" width="1" height="19"/>
<rect x="558" y="702" width="1" height="21"/>
<rect x="562" y="702" width="1" height="20"/>
<rect x="566" y="702" width="1" height="20"/>
<rect x="570" y="702" width="1" height="20"/>
<rect x="574" y="702" width="1" height="21"/>
<rect x="578" y="702" width="1" height="23"/>
<rect x="582" y="702" width="1" height="22"/>
<rect x="586" y="702" width="1" height="22"/>
<rect x="590" y="702" width="1" height="22"/>
<rect x="594" y="702" width="1" height="23"/>
<rect x="598" y="702" width="1" height="25"/>
<rect x="602" y="702" width="1" height="26"/>
<rect x="606" y="702" width="1" height="27"/>
<rect x="610" y="702" width="1" height="26"/>
<rect x="614" y="702" width="1" height="25"/>
<rect x="618" y="702" width="1" height="25"/>
<rect x="622" y="702" width="1" height="25"/>
<rect x="626" y="702" width="1" height="27"/>
<rect x="630" y="702" width="1" height="28"/>
<rect x="634" y="702" width="1" height="31"/>
<rect x="638" y="702" width="1" height="33"/>
<rect x="642" y="702" width="1" height="35"/>
<rect x="646" y="702" width="1" height="38"/>
<rect x="650" y="702" width="1" height="39"/>
<rect x="654" y="702" width="1" height="38"/>
<rect x="658" y="702" width="1" height="38"/>
<rect x="662" y="702" width="1" height="38"/>
<rect x="666" y="702" width="1" height="38"/>
<rect x="670" y="702" width="1" height="35"/>
<rect x="674" y="702" width="1" height="35"/>
<rect x="678" y="702" width="1" height="34"/>
<rect x="682" y="702" width="1" height="33"/>
<rect x="686" y="702" width="1" height="32"/>
<rect x="690" y="702" width="1" height="33"/>
<rect x="694" y="702" width="1" height="36"/>
<rect x="698" y="702" width="1" height="40"/>
<rect x="702" y="702" width="1" height="42"/>
<rect x="706" y="702" width="1" height="42"/>
<rect x="710" y="702" width="1" height="41"/>
<rect x="714" y="702" width="1" height="38"/>
<rect x="718" y="702" width="1" height="37"/>
<rect x="722" y="702" width="1" height="32"/>
<rect x="726" y="702" width="1" height="27"/>
<rect x="730" y="702" width="1" height="22"/>
<rect x="734" y="702" width="1" height="19"/>
<rect x="738" y="702" width="1" height="17"/>
<rect x="742" y="702" width="1" height="15"/>
<rect x="746" y="702" width="1" height="16"/>
<rect x="750" y="702" width="1" height="21"/>
<rect x="754" y="702" width="1" height="23"/>
<rect x="758" y="702" width="1" height="25"/>
<rect x="762" y="702" width="1" height="30"/>
<rect x="766" y="702" width="1" height="31"/>
<rect x="770" y="702" width="1" height="33"/>
<rect x="774" y="702" width="1" height="32"/>
<rect x="778" y="702" width="1" height="37"/>
<rect x="782" y="702" width="1" height="40"/>
<rect x="786" y="702" width="1" height="36"/>
<rect x="790" y="702" width="1" height="34"/>
<rect x="794" y="702" width="1" height="34"/>
<rect x="798" y="702" width="1" height="33"/>
<rect x="802" y="702" width="1" height="34"/>
<rect x="806" y="702" width="1" height="35"/>
<rect x="810" y="702" width="1" height="36"/>
<rect x="814" y="702" width="1" height="38"/>
<rect x="818" y="702" width="1" height="41"/>
<rect x="822" y="702" width="1" height="40"/>
<rect x="826" y="702" width="1" height="39"/>
<rect x="830" y="702" width="1" height="38"/>
<rect x="834" y="702" width="1" height="34"/>
<rect x="838" y="702" width="1" height="30"/>
<rect x="842" y="702" width="1" height="24"/>
<rect x="846" y="702" width="1" height="20"/>
<rect x="850" y="702" width="1" height="19"/>
<rect x="854" y="702" width="1" height="19"/>
<rect x="858" y="702" width="1" height="18"/>
<rect x="862" y="702" width="1" height="18"/>
<rect x="866" y="702" width="1" height="22"/>
<rect x="870" y="702" width="1" height="27"/>
<rect x="874" y="702" width="1" height="32"/>
<rect x="878" y="702" width="1" height="37"/>
<rect x="882" y="702" width="1" height="36"/>
<rect x="886" y="702" width="1" height="37"/>
<rect x="890" y="702" width="1" height="36"/>
<rect x="894" y="702" width="1" height="36"/>
<rect x="898" y="702" width="1" height="35"/>
<rect x="902" y="702" width="1" height="35"/>
<rect x="906" y="702" width="1" height="38"/>
<rect x="910" y="702" width="1" height="41"/>
<rect x="914" y="702" width="1" height="42"/>
<rect x="918" y="702" width="1" height="41"/>
<rect x="922" y="702" width="1" height="41"/>
<rect x="926" y="702" width="1" height="42"/>
<rect x="930" y="702" width="1" height="38"/>
<rect x="934" y="702" width="1" height="35"/>
<rect x="938" y="702" width="1" height="34"/>
<rect x="942" y="702" width="1" height="33"/>
<rect x="946" y="702" width="1" height="31"/>
<rect x="950" y="702" width="1" height="30"/>
<rect x="954" y="702" width="1" height="27"/>
<rect x="958" y="702" width="1" height="27"/>
<rect x="962" y="702" width="1" height="27"/>
<rect x="966" y="702" width="1" height="28"/>
<rect x="970" y="702" width="1" height="31"/>
<rect x="974" y="702" width="1" height="33"/>
<rect x="978" y="702" width="1" height="33"/>
<rect x="982" y="702" width="1" height="33"/>
<rect x="986" y="702" width="1" height="32"/>
<rect x="990" y="702" width="1" height="29"/>
<rect x="994" y="702" width="1" height="27"/>
<rect x="998" y="702" width="1" height="26"/>
<rect x="1002" y="702" width="1" height="24"/>
<rect x="1006" y="702" width="1" height="24"/>
<rect x="1010" y="702" width="1" height="24"/>
<rect x="1014" y="702" width="1" height="24"/>
<rect x="1018" y="702" width="1" height="23"/>
<rect x="1022" y="702" width="1" height="22"/>
<rect x="1026" y="702" width="1" height="20"/>
<rect x="1030" y="702" width="1" height="17"/>
<rect x="1034" y="702" width="1" height="16"/>
<rect x="1038" y="702" width="1" height="16"/>
<rect x="1042" y="702" width="1" height="16"/>
<rect x="1046" y="702" width="1" height="14"/>
<rect x="1050" y="702" width="1" height="13"/>
<rect x="1054" y="702" width="1" height="15"/>
<rect x="1058" y="702" width="1" height="16"/>
<rect x="1062" y="702" width="1" height="16"/>
<rect x="1066" y="702" width="1" height="16"/>
<rect x="1070" y="702" width="1" height="21"/>
<rect x="1074" y="702" width="1" height="25"/>
<rect x="1078" y="702" width="1" height="27"/>
<rect x="1082" y="702" width="1" height="26"/>
<rect x="1086" y="702" width="1" height="27"/>
<rect x="1090" y="702" width="1" height="26"/>
<rect x="1094" y="702" width="1" height="24"/>
<rect x="1098" y="702" width="1" height="24"/>
<rect x="1102" y="702" width="1" height="23"/>
<rect x="1106" y="702" width="1" height="22"/>
<rect x="1110" y="702" width="1" height="19"/>
<rect x="1114" y="702" width="1" height="17"/>
<rect x="1118" y="702" width="1" height="14"/>
<rect x="1122" y="702" width="1" height="13"/>
<rect x="1126" y="702" width="1" height="14"/>
<rect x="1130" y="702" width="1" height="14"/>
<rect x="1134" y="702" width="1" height="11"/>
<rect x="1138" y="702" width="1" height="8"/>
<rect x="1142" y="702" width="1" height="7"/>
<rect x="1146" y="702" width="1" height="8"/>
<rect x="1150" y="702" width="1" height="6"/>
<rect x="1154" y="702" width="1" height="6"/>
<rect x="1158" y="702" width="1" height="9"/>
<rect x="1162" y="702" width="1" height="11"/>
<rect x="1166" y="702" width="1" height="9"/>
<rect x="1170" y="702" width="1" height="10"/>
<rect x="1174" y="702" width="1" height="9"/>
<rect x="1178" y="702" width="1" height="8"/>
<rect x="1182" y="702" width="1" height="8"/>
<rect x="1186" y="702" width="1" height="9"/>
<rect x="1190" y="702" width="1" height="10"/>
<rect x="1194" y="702" width="1" height="14"/>
<rect x="1198" y="702" width="1" height="15"/>
<rect x="1202" y="702" width="1" height="17"/>
<rect x="1206" y="702" width="1" height="18"/>
<rect x="1210" y="702" width="1" height="19"/>
<rect x="1214" y="702" width="1" height="21"/>
<rect x="1218" y="702" width="1" height="20"/>
<rect x="1222" y="702" width="1" height="17"/>
<rect x="1226" y="702" width="1" height="13"/>
<rect x="1230" y="702" width="1" height="11"/>
<rect x="1234" y="702" width="1" height="8"/>
<rect x="1238" y="702" width="1" height="5"/>
<rect x="1242" y="702" width="1" height="4"/>
<rect x="1246" y="702" width="1" height="3"/>
<rect x="1250" y="702" width="1" height="2"/>
<rect x="1254" y="702" width="1" height="1"/>
</g>
<rect x="6" y="657" width="152" height="10" fill="#ffffff"/>
<text x="6.6" y="666" class="s" textLength="150.5" lengthAdjust="spacingAndGlyphs">MACD(12,26,9) 0.000437 -0.006050</text>
<path fill="#ff0000" d="M2 686h3v1h-3zM8 685h1v1h-1zM9 684h2v1h-2zM14 685h2v1h-2zM16 686h1v1h-1zM20 688h2v1h-2zM22 689h1v1h-1zM26 692h1v1h-1zM27 693h2v1h-2zM32 697h1v1h-1zM33 698h1v1h-1zM34 699h1v1h-1zM38 702h1v1h-1zM39 703h1v1h-1zM40 704h1v1h-1zM44 707h1v1h-1zM45 708h1v1h-1zM46 709h1v1h-1zM50 711h3v1h-3zM56 712h3v1h-3zM62 710h2v1h-2zM64 709h1v1h-1zM68 707h2v1h-2zM70 706h1v1h-1zM74 702h1v1h-1zM75 701h1v1h-1zM76 700h1v1h-1zM79 696h1v1h-1zM80 695h1v1h-1zM81 694h1v1h-1zM84 689h1v2h-1zM85 688h1v1h-1zM88 684h1v1h-1zM89 682h1v2h-1zM93 678h1v1h-1zM94 677h1v1h-1zM95 676h1v1h-1zM99 672h1v1h-1zM100 671h1v1h-1zM101 670h1v1h-1zM105 667h1v1h-1zM106 666h1v1h-1zM107 665h1v1h-1zM111 663h2v1h-2zM113 662h1v1h-1zM117 662h3v1h-3zM123 663h2v1h-2zM125 664h1v1h-1zM129 665h3v1h-3zM135 667h1v1h-1zM136 668h2v1h-2zM141 670h1v1h-1zM142 671h2v1h-2zM147 674h2v1h-2zM149 675h1v1h-1zM153 677h1v1h-1zM154 678h1v1h-1zM155 679h1v1h-1zM159 683h2v1h-2zM161 684h1v1h-1zM165 687h1v1h-1zM166 688h1v1h-1zM167 689h1v1h-1zM171 692h2v1h-2zM173 693h1v1h-1zM177 695h3v1h-3zM183 697h2v1h-2zM185 698h1v1h-1zM189 698h3v1h-3zM195 698h2v1h-2zM197 697h1v1h-1zM201 697h3v1h-3zM207 696h2v1h-2zM209 695h1v1h-1zM213 695h3v1h-3zM219 695h3v1h-3zM225 694h3v1h-3zM231 694h2v1h-2zM233 693h1v1h-1zM237 692h3v1h-3zM243 691h3v1h-3zM249 691h3v1h-3zM255 690h3v1h-3zM261 690h3v1h-3zM267 690h2v1h-2zM269 691h1v1h-1zM273 692h3v1h-3zM279 692h3v1h-3zM285 692h3v1h-3zM291 692h3v1h-3zM297 692h3v1h-3zM303 691h3v1h-3zM309 690h3v1h-3zM315 690h2v1h-2zM317 689h1v1h-1zM321 688h3v1h-3zM327 687h2v1h-2zM329 686h1v1h-1zM333 686h3v1h-3zM339 686h2v1h-2zM341 687h1v1h-1zM345 688h2v1h-2zM347 689h1v1h-1zM351 692h2v1h-2zM353 693h1v1h-1zM357 696h1v1h-1zM358 697h1v1h-1zM359 698h1v1h-1zM363 702h1v1h-1zM364 703h1v1h-1zM365 704h1v1h-1zM369 707h1v1h-1zM370 708h2v1h-2zM375 711h2v1h-2zM377 712h1v1h-1zM381 714h3v1h-3zM387 715h2v1h-2zM389 716h1v1h-1zM393 716h3v1h-3zM399 715h3v1h-3zM405 715h3v1h-3zM411 715h3v1h-3zM417 715h3v1h-3zM423 714h3v1h-3zM429 713h3v1h-3zM435 713h3v1h-3zM441 712h3v1h-3zM447 711h3v1h-3zM453 712h3v1h-3zM459 713h1v1h-1zM460 714h2v1h-2zM465 716h1v1h-1zM466 717h2v1h-2zM471 718h1v1h-1zM472 719h2v1h-2zM477 721h1v1h-1zM478 722h2v1h-2zM483 724h1v1h-1zM484 725h2v1h-2zM489 727h3v1h-3zM495 728h3v1h-3zM501 729h3v1h-3zM507 729h2v1h-2zM509 728h1v1h-1zM513 728h3v1h-3zM519 726h2v1h-2zM521 725h1v1h-1zM525 724h3v1h-3zM531 722h2v1h-2zM533 721h1v1h-1zM537 720h1v1h-1zM538 719h2v1h-2zM543 718h2v1h-2zM545 717h1v1h-1zM549 717h3v1h-3zM555 717h3v1h-3zM561 718h3v1h-3zM567 719h2v1h-2zM569 720h1v1h-1zM573 720h3v1h-3zM579 721h2v1h-2zM581 722h1v1h-1zM585 723h3v1h-3zM591 723h3v1h-3zM597 724h3v1h-3zM603 725h3v1h-3zM609 726h3v1h-3zM615 726h2v1h-2zM617 727h1v1h-1zM621 727h3v1h-3zM627 727h2v1h-2zM629 728h1v1h-1zM633 729h3v1h-3zM639 729h2v1h-2zM641 730h1v1h-1zM645 731h1v1h-1zM646 732h2v1h-2zM651 733h1v1h-1zM652 734h2v1h-2zM657 736h3v1h-3zM663 737h2v1h-2zM665 738h1v1h-1zM669 739h3v1h-3zM675 739h3v1h-3zM681 738h3v1h-3zM687 737h3v1h-3zM693 737h3v1h-3zM699 737h3v1h-3zM705 738h3v1h-3zM711 739h3v1h-3zM717 740h3v1h-3zM723 740h2v1h-2zM725 739h1v1h-1zM729 738h2v1h-2zM731 737h1v1h-1zM735 734h2v1h-2zM737 733h1v1h-1zM741 730h1v1h-1zM742 729h2v1h-2zM747 727h1v1h-1zM748 726h2v1h-2zM753 724h1v1h-1zM754 723h2v1h-2zM759 723h3v1h-3zM765 724h3v1h-3zM771 726h2v1h-2zM773 727h1v1h-1zM777 729h1v1h-1zM778 730h2v1h-2zM783 732h1v1h-1zM784 733h2v1h-2zM789 735h3v1h-3zM795 736h2v1h-2zM797 737h1v1h-1zM801 737h3v1h-3zM807 737h3v1h-3zM813 738h3v1h-3zM819 738h3v1h-3zM825 739h3v1h-3zM831 739h3v1h-3zM837 739h3v1h-3zM843 738h1v1h-1zM844 737h2v1h-2zM849 735h1v1h-1zM850 734h1v1h-1zM851 733h1v1h-1zM855 731h1v1h-1zM856 730h2v1h-2zM861 728h1v1h-1zM862 727h2v1h-2zM867 725h2v1h-2zM869 724h1v1h-1zM873 724h3v1h-3zM879 726h2v1h-2zM881 727h1v1h-1zM885 728h1v1h-1zM886 729h2v1h-2zM891 731h1v1h-1zM892 732h2v1h-2zM897 734h1v1h-1zM898 735h2v1h-2zM903 737h2v1h-2zM905 738h1v1h-1zM909 739h3v1h-3zM915 739h2v1h-2zM917 740h1v1h-1zM921 740h3v1h-3zM927 741h3v1h-3zM933 741h3v1h-3zM939 741h2v1h-2zM941 740h1v1h-1zM945 739h3v1h-3zM951 738h2v1h-2zM953 737h1v1h-1zM957 736h1v1h-1zM958 735h2v1h-2zM963 733h2v1h-2zM965 732h1v1h-1zM969 732h3v1h-3zM975 732h3v1h-3zM981 732h3v1h-3zM987 732h3v1h-3zM993 733h3v1h-3zM999 732h3v1h-3zM1005 731h3v1h-3zM1011 730h2v1h-2zM1013 729h1v1h-1zM1017 728h3v1h-3zM1023 727h2v1h-2zM1025 726h1v1h-1zM1029 725h3v1h-3zM1035 723h3v1h-3zM1041 722h3v1h-3zM1047 720h2v1h-2zM1049 719h1v1h-1zM1053 718h3v1h-3zM1059 718h2v1h-2zM1061 717h1v1h-1zM1065 717h3v1h-3zM1071 718h2v1h-2zM1073 719h1v1h-1zM1077 720h3v1h-3zM1083 722h2v1h-2zM1085 723h1v1h-1zM1089 724h3v1h-3zM1095 725h2v1h-2zM1097 726h1v1h-1zM1101 727h3v1h-3zM1107 727h2v1h-2zM1109 726h1v1h-1zM1113 725h3v1h-3zM1119 724h1v1h-1zM1120 723h2v1h-2zM1125 721h3v1h-3zM1131 720h1v1h-1zM1132 719h2v1h-2zM1137 717h3v1h-3zM1143 715h2v1h-2zM1145 714h1v1h-1zM1149 713h1v1h-1zM1150 712h2v1h-2zM1155 712h2v1h-2zM1157 711h1v1h-1zM1161 711h3v1h-3zM1167 710h3v1h-3zM1173 710h3v1h-3zM1179 710h2v1h-2zM1181 711h1v1h-1zM1185 711h3v1h-3zM1191 711h2v1h-2zM1193 712h1v1h-1zM1197 712h3v1h-3zM1203 713h2v1h-2zM1205 714h1v1h-1zM1209 715h3v1h-3zM1215 717h2v1h-2zM1217 718h1v1h-1zM1221 719h3v1h-3zM1227 719h3v1h-3zM1233 718h3v1h-3zM1239 717h1v1h-1zM1240 716h2v1h-2zM1245 714h1v1h-1zM1246 713h2v1h-2zM1251 711h1v1h-1zM1252 710h2v1h-2z"/>
<rect x="1" y="26" width="1" height="528" fill="#000"/>
<rect x="1" y="555" width="1" height="97" fill="#000"/>
<rect x="1" y="653" width="1" height="97" fill="#000"/>
<rect x="2" y="317" width="1577" height="2" fill="#ff0000"/>
<rect x="1580" y="312" width="41" height="11" fill="#ff0000"/>
<text x="1584" y="321" class="w" textLength="33" lengthAdjust="spacingAndGlyphs">6.76157</text>
<rect x="1579" y="319" width="1" height="1" fill="#000"/>
<rect x="2" y="398" width="1577" height="2" fill="#ff0000"/>
<rect x="1580" y="393" width="41" height="11" fill="#ff0000"/>
<text x="1584" y="402" class="w" textLength="33" lengthAdjust="spacingAndGlyphs">6.63034</text>
<rect x="1" y="396" width="6" height="6" fill="#ff0000"/>
<rect x="3" y="398" width="2" height="2" fill="#fff"/>
<rect x="1572" y="396" width="6" height="6" fill="#ff0000"/>
<rect x="1574" y="398" width="2" height="2" fill="#fff"/>
<rect x="2" y="466" width="1577" height="2" fill="#00ff00"/>
<rect x="1580" y="461" width="41" height="11" fill="#00ff00"/>
<text x="1584" y="470" class="w" textLength="33" lengthAdjust="spacingAndGlyphs">6.51976</text>
<rect x="1" y="464" width="6" height="6" fill="#00ff00"/>
<rect x="3" y="466" width="2" height="2" fill="#fff"/>
<rect x="1572" y="464" width="6" height="6" fill="#00ff00"/>
<rect x="1574" y="466" width="2" height="2" fill="#fff"/>
<rect x="2" y="540" width="1577" height="2" fill="#0000ff"/>
<rect x="1580" y="535" width="41" height="11" fill="#0000ff"/>
<text x="1584" y="544" class="w" textLength="33" lengthAdjust="spacingAndGlyphs">6.39941</text>
<rect x="1" y="538" width="6" height="6" fill="#0000ff"/>
<rect x="3" y="540" width="2" height="2" fill="#fff"/>
<rect x="1572" y="538" width="6" height="6" fill="#0000ff"/>
<rect x="1574" y="540" width="2" height="2" fill="#fff"/>
<rect x="1580" y="488" width="41" height="11" fill="#000000"/>
<text x="1584" y="497" class="w" textLength="33" lengthAdjust="spacingAndGlyphs">6.47736</text>
</svg></body></html>
